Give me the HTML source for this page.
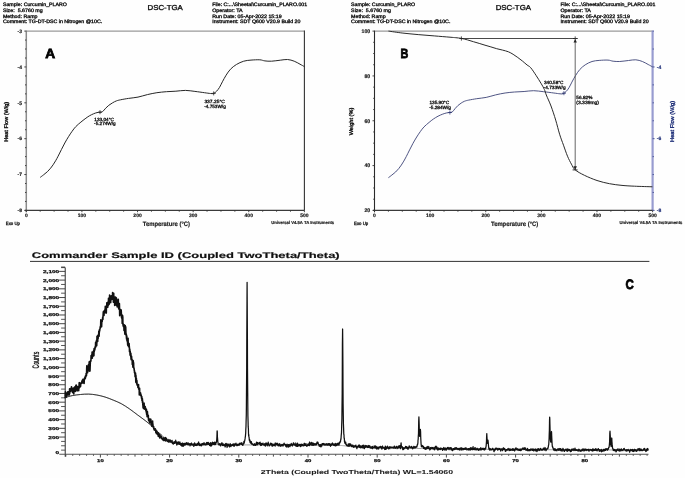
<!DOCTYPE html>
<html><head><meta charset="utf-8"><style>html,body{margin:0;padding:0;background:#fefefe;width:685px;height:478px;overflow:hidden}svg{will-change:transform}</style></head>
<body><svg width="685" height="478" viewBox="0 0 685 478" style="display:block">
<rect width="685" height="478" fill="#fefefe"/>
<g font-family="Liberation Sans, sans-serif" style="white-space:pre" text-rendering="geometricPrecision">
<text x="2.9" y="6.1" font-size="4.9" font-weight="normal" fill="#111" text-anchor="start" textLength="64" lengthAdjust="spacingAndGlyphs" stroke="#111" stroke-width="0.32">Sample: Curcumin_PLARO</text>
<text x="2.9" y="11.8" font-size="4.9" font-weight="normal" fill="#111" text-anchor="start" textLength="39.8" lengthAdjust="spacingAndGlyphs" stroke="#111" stroke-width="0.32">Size:  5.6760 mg</text>
<text x="2.9" y="17.6" font-size="4.9" font-weight="normal" fill="#111" text-anchor="start" textLength="34.6" lengthAdjust="spacingAndGlyphs" stroke="#111" stroke-width="0.32">Method: Ramp</text>
<text x="2.9" y="23.45" font-size="4.9" font-weight="normal" fill="#111" text-anchor="start" textLength="99.3" lengthAdjust="spacingAndGlyphs" stroke="#111" stroke-width="0.32">Comment: TG-DT-DSC in Nitrogen @10C.</text>
<text x="147.5" y="10.3" font-size="7.2" font-weight="normal" fill="#111" text-anchor="start" textLength="35.3" lengthAdjust="spacingAndGlyphs" stroke="#111" stroke-width="0.35">DSC-TGA</text>
<text x="212.2" y="6.1" font-size="4.9" font-weight="normal" fill="#111" text-anchor="start" textLength="95" lengthAdjust="spacingAndGlyphs" stroke="#111" stroke-width="0.32">File: C:...\Sheetal\Curcumin_PLARO.001</text>
<text x="212.2" y="11.8" font-size="4.9" font-weight="normal" fill="#111" text-anchor="start" textLength="30.5" lengthAdjust="spacingAndGlyphs" stroke="#111" stroke-width="0.32">Operator: TA</text>
<text x="212.2" y="17.6" font-size="4.9" font-weight="normal" fill="#111" text-anchor="start" textLength="69.5" lengthAdjust="spacingAndGlyphs" stroke="#111" stroke-width="0.32">Run Date: 05-Apr-2022 15:19</text>
<text x="212.2" y="23.45" font-size="4.9" font-weight="normal" fill="#111" text-anchor="start" textLength="88.3" lengthAdjust="spacingAndGlyphs" stroke="#111" stroke-width="0.32">Instrument: SDT Q600 V20.9 Build 20</text>
<line x1="26.3" y1="31.1" x2="304.4" y2="31.1" stroke="#9a9a9a" stroke-width="1.4"/>
<line x1="304.4" y1="30.6" x2="304.4" y2="210.4" stroke="#333" stroke-width="1.1"/>
<line x1="26.3" y1="30.6" x2="26.3" y2="212.2" stroke="#8a8a8a" stroke-width="1.5"/>
<line x1="24.8" y1="210.4" x2="304.4" y2="210.4" stroke="#3a3a3a" stroke-width="1.1"/>
<line x1="26.3" y1="210.4" x2="26.3" y2="212.2" stroke="#333" stroke-width="0.9"/>
<line x1="40.2" y1="210.4" x2="40.2" y2="211.7" stroke="#333" stroke-width="0.9"/>
<line x1="54.11" y1="210.4" x2="54.11" y2="211.7" stroke="#333" stroke-width="0.9"/>
<line x1="68.01" y1="210.4" x2="68.01" y2="211.7" stroke="#333" stroke-width="0.9"/>
<line x1="81.92" y1="210.4" x2="81.92" y2="212.2" stroke="#333" stroke-width="0.9"/>
<line x1="95.82" y1="210.4" x2="95.82" y2="211.7" stroke="#333" stroke-width="0.9"/>
<line x1="109.73" y1="210.4" x2="109.73" y2="211.7" stroke="#333" stroke-width="0.9"/>
<line x1="123.63" y1="210.4" x2="123.63" y2="211.7" stroke="#333" stroke-width="0.9"/>
<line x1="137.54" y1="210.4" x2="137.54" y2="212.2" stroke="#333" stroke-width="0.9"/>
<line x1="151.44" y1="210.4" x2="151.44" y2="211.7" stroke="#333" stroke-width="0.9"/>
<line x1="165.35" y1="210.4" x2="165.35" y2="211.7" stroke="#333" stroke-width="0.9"/>
<line x1="179.25" y1="210.4" x2="179.25" y2="211.7" stroke="#333" stroke-width="0.9"/>
<line x1="193.16" y1="210.4" x2="193.16" y2="212.2" stroke="#333" stroke-width="0.9"/>
<line x1="207.06" y1="210.4" x2="207.06" y2="211.7" stroke="#333" stroke-width="0.9"/>
<line x1="220.97" y1="210.4" x2="220.97" y2="211.7" stroke="#333" stroke-width="0.9"/>
<line x1="234.87" y1="210.4" x2="234.87" y2="211.7" stroke="#333" stroke-width="0.9"/>
<line x1="248.78" y1="210.4" x2="248.78" y2="212.2" stroke="#333" stroke-width="0.9"/>
<line x1="262.68" y1="210.4" x2="262.68" y2="211.7" stroke="#333" stroke-width="0.9"/>
<line x1="276.59" y1="210.4" x2="276.59" y2="211.7" stroke="#333" stroke-width="0.9"/>
<line x1="290.49" y1="210.4" x2="290.49" y2="211.7" stroke="#333" stroke-width="0.9"/>
<line x1="304.4" y1="210.4" x2="304.4" y2="212.2" stroke="#333" stroke-width="0.9"/>
<text x="26.3" y="216.9" font-size="5" font-weight="bold" fill="#1a1a1a" text-anchor="middle" stroke="#1a1a1a" stroke-width="0.18">0</text>
<text x="81.92" y="216.9" font-size="5" font-weight="bold" fill="#1a1a1a" text-anchor="middle" stroke="#1a1a1a" stroke-width="0.18">100</text>
<text x="137.54" y="216.9" font-size="5" font-weight="bold" fill="#1a1a1a" text-anchor="middle" stroke="#1a1a1a" stroke-width="0.18">200</text>
<text x="193.16" y="216.9" font-size="5" font-weight="bold" fill="#1a1a1a" text-anchor="middle" stroke="#1a1a1a" stroke-width="0.18">300</text>
<text x="248.78" y="216.9" font-size="5" font-weight="bold" fill="#1a1a1a" text-anchor="middle" stroke="#1a1a1a" stroke-width="0.18">400</text>
<text x="304.4" y="216.9" font-size="5" font-weight="bold" fill="#1a1a1a" text-anchor="middle" stroke="#1a1a1a" stroke-width="0.18">500</text>
<text x="142.8" y="226" font-size="6.3" font-weight="bold" fill="#1a1a1a" text-anchor="start" textLength="47.2" lengthAdjust="spacingAndGlyphs" stroke="#1a1a1a" stroke-width="0.18">Temperature (°C)</text>
<text x="271.2" y="224.3" font-size="4.4" font-weight="bold" fill="#1a1a1a" text-anchor="start" textLength="63" lengthAdjust="spacingAndGlyphs" stroke="#1a1a1a" stroke-width="0.18">Universal V4.5A TA Instruments</text>
<text x="5.8" y="224.5" font-size="4.6" font-weight="normal" fill="#111" text-anchor="start" textLength="14.2" lengthAdjust="spacingAndGlyphs" stroke="#111" stroke-width="0.3">Exo Up</text>
<line x1="24.3" y1="31.1" x2="26.3" y2="31.1" stroke="#333" stroke-width="0.9"/>
<line x1="25" y1="40.06" x2="26.3" y2="40.06" stroke="#333" stroke-width="0.9"/>
<line x1="25" y1="49.03" x2="26.3" y2="49.03" stroke="#333" stroke-width="0.9"/>
<line x1="25" y1="58" x2="26.3" y2="58" stroke="#333" stroke-width="0.9"/>
<line x1="24.3" y1="66.96" x2="26.3" y2="66.96" stroke="#333" stroke-width="0.9"/>
<line x1="25" y1="75.93" x2="26.3" y2="75.93" stroke="#333" stroke-width="0.9"/>
<line x1="25" y1="84.89" x2="26.3" y2="84.89" stroke="#333" stroke-width="0.9"/>
<line x1="25" y1="93.86" x2="26.3" y2="93.86" stroke="#333" stroke-width="0.9"/>
<line x1="24.3" y1="102.82" x2="26.3" y2="102.82" stroke="#333" stroke-width="0.9"/>
<line x1="25" y1="111.78" x2="26.3" y2="111.78" stroke="#333" stroke-width="0.9"/>
<line x1="25" y1="120.75" x2="26.3" y2="120.75" stroke="#333" stroke-width="0.9"/>
<line x1="25" y1="129.72" x2="26.3" y2="129.72" stroke="#333" stroke-width="0.9"/>
<line x1="24.3" y1="138.68" x2="26.3" y2="138.68" stroke="#333" stroke-width="0.9"/>
<line x1="25" y1="147.65" x2="26.3" y2="147.65" stroke="#333" stroke-width="0.9"/>
<line x1="25" y1="156.61" x2="26.3" y2="156.61" stroke="#333" stroke-width="0.9"/>
<line x1="25" y1="165.57" x2="26.3" y2="165.57" stroke="#333" stroke-width="0.9"/>
<line x1="24.3" y1="174.54" x2="26.3" y2="174.54" stroke="#333" stroke-width="0.9"/>
<line x1="25" y1="183.51" x2="26.3" y2="183.51" stroke="#333" stroke-width="0.9"/>
<line x1="25" y1="192.47" x2="26.3" y2="192.47" stroke="#333" stroke-width="0.9"/>
<line x1="25" y1="201.44" x2="26.3" y2="201.44" stroke="#333" stroke-width="0.9"/>
<line x1="24.3" y1="210.4" x2="26.3" y2="210.4" stroke="#333" stroke-width="0.9"/>
<text x="22" y="32.9" font-size="5" font-weight="bold" fill="#1a1a1a" text-anchor="end" stroke="#1a1a1a" stroke-width="0.18">-3</text>
<text x="22" y="68.76" font-size="5" font-weight="bold" fill="#1a1a1a" text-anchor="end" stroke="#1a1a1a" stroke-width="0.18">-4</text>
<text x="22" y="104.62" font-size="5" font-weight="bold" fill="#1a1a1a" text-anchor="end" stroke="#1a1a1a" stroke-width="0.18">-5</text>
<text x="22" y="140.48" font-size="5" font-weight="bold" fill="#1a1a1a" text-anchor="end" stroke="#1a1a1a" stroke-width="0.18">-6</text>
<text x="22" y="176.34" font-size="5" font-weight="bold" fill="#1a1a1a" text-anchor="end" stroke="#1a1a1a" stroke-width="0.18">-7</text>
<text x="22" y="212.2" font-size="5" font-weight="bold" fill="#1a1a1a" text-anchor="end" stroke="#1a1a1a" stroke-width="0.18">-8</text>
<text x="0" y="0" font-size="5.5" font-weight="normal" fill="#111" text-anchor="middle" textLength="40" lengthAdjust="spacingAndGlyphs" stroke="#111" stroke-width="0.35" transform="translate(8.4,121.8) rotate(-90)">Heat Flow (W/g)</text>
<text x="45.3" y="57.9" font-size="13.4" font-weight="bold" fill="#000" text-anchor="start" textLength="9.9" lengthAdjust="spacingAndGlyphs" stroke="#000" stroke-width="0.8">A</text>
<path d="M40.2,177.4 C40.77,176.97 42.4,175.75 43.6,174.8 C44.8,173.85 46.23,172.8 47.4,171.7 C48.57,170.6 49.65,169.35 50.6,168.2 C51.55,167.05 52.27,166.03 53.1,164.8 C53.93,163.57 54.77,162.23 55.6,160.8 C56.43,159.37 57.13,158.07 58.1,156.2 C59.07,154.33 60.28,151.8 61.4,149.6 C62.52,147.4 63.62,145.15 64.8,143 C65.98,140.85 67.28,138.65 68.5,136.7 C69.72,134.75 70.88,132.98 72.1,131.3 C73.32,129.62 74.33,128.13 75.8,126.6 C77.27,125.07 79.35,123.4 80.9,122.1 C82.45,120.8 83.7,119.83 85.1,118.8 C86.5,117.77 87.9,116.73 89.3,115.9 C90.7,115.07 92.22,114.35 93.5,113.8 C94.78,113.25 95.92,112.87 97,112.6 C98.08,112.33 99.07,112.37 100,112.2 C100.93,112.03 101.65,112.27 102.6,111.6 C103.55,110.93 104.67,109.25 105.7,108.2 C106.73,107.15 107.65,106.2 108.8,105.3 C109.95,104.4 111.33,103.53 112.6,102.8 C113.87,102.07 115.08,101.4 116.4,100.9 C117.72,100.4 118.48,100.22 120.5,99.8 C122.52,99.38 125.58,98.85 128.5,98.4 C131.42,97.95 134.85,97.73 138,97.1 C141.15,96.47 144.25,95.33 147.4,94.6 C150.55,93.87 153.73,93.18 156.9,92.7 C160.07,92.22 163.23,91.95 166.4,91.7 C169.57,91.45 172.73,91.42 175.9,91.2 C179.07,90.98 182.23,90.37 185.4,90.4 C188.57,90.43 191.73,91.02 194.9,91.4 C198.07,91.78 201.8,92.35 204.4,92.7 C207,93.05 208.95,93.38 210.5,93.5 C212.05,93.62 212.68,93.78 213.7,93.4 C214.72,93.02 215.63,92.2 216.6,91.2 C217.57,90.2 218.53,88.97 219.5,87.4 C220.47,85.83 221.3,83.83 222.4,81.8 C223.5,79.77 224.75,77.3 226.1,75.2 C227.45,73.1 228.78,70.98 230.5,69.2 C232.22,67.42 234.2,65.83 236.4,64.5 C238.6,63.17 241.27,61.93 243.7,61.2 C246.13,60.47 248.32,60.33 251,60.1 C253.68,59.87 257.48,59.67 259.8,59.8 C262.12,59.93 262.95,60.67 264.9,60.9 C266.85,61.13 268.93,61.32 271.5,61.2 C274.07,61.08 277.62,60.48 280.3,60.2 C282.98,59.92 285.28,59.33 287.6,59.5 C289.92,59.67 292.13,60.42 294.2,61.2 C296.27,61.98 298.3,63.3 300,64.2 C301.7,65.1 303.67,66.2 304.4,66.6" fill="none" stroke="#262626" stroke-width="1.0"/>
<line x1="98" y1="112.2" x2="102" y2="112.2" stroke="#222" stroke-width="0.8"/>
<line x1="100" y1="110.2" x2="100" y2="114.2" stroke="#222" stroke-width="0.8"/>
<line x1="211.7" y1="93.4" x2="215.7" y2="93.4" stroke="#222" stroke-width="0.8"/>
<line x1="213.7" y1="91.4" x2="213.7" y2="95.4" stroke="#222" stroke-width="0.8"/>
<text x="94.3" y="120.6" font-size="4.6" font-weight="normal" fill="#111" text-anchor="start" textLength="19.6" lengthAdjust="spacingAndGlyphs" stroke="#111" stroke-width="0.3">133.04°C</text>
<text x="94.1" y="125.3" font-size="4.6" font-weight="normal" fill="#111" text-anchor="start" textLength="21.6" lengthAdjust="spacingAndGlyphs" stroke="#111" stroke-width="0.3">-5.274W/g</text>
<text x="204.4" y="103.2" font-size="4.6" font-weight="normal" fill="#111" text-anchor="start" textLength="20.5" lengthAdjust="spacingAndGlyphs" stroke="#111" stroke-width="0.3">337.25°C</text>
<text x="204.2" y="107.9" font-size="4.6" font-weight="normal" fill="#111" text-anchor="start" textLength="21.6" lengthAdjust="spacingAndGlyphs" stroke="#111" stroke-width="0.3">-4.753W/g</text>
<text x="351.1" y="6.1" font-size="4.9" font-weight="normal" fill="#111" text-anchor="start" textLength="64" lengthAdjust="spacingAndGlyphs" stroke="#111" stroke-width="0.32">Sample: Curcumin_PLARO</text>
<text x="351.1" y="11.8" font-size="4.9" font-weight="normal" fill="#111" text-anchor="start" textLength="39.8" lengthAdjust="spacingAndGlyphs" stroke="#111" stroke-width="0.32">Size:  5.6760 mg</text>
<text x="351.1" y="17.6" font-size="4.9" font-weight="normal" fill="#111" text-anchor="start" textLength="34.6" lengthAdjust="spacingAndGlyphs" stroke="#111" stroke-width="0.32">Method: Ramp</text>
<text x="351.1" y="23.45" font-size="4.9" font-weight="normal" fill="#111" text-anchor="start" textLength="99.3" lengthAdjust="spacingAndGlyphs" stroke="#111" stroke-width="0.32">Comment: TG-DT-DSC in Nitrogen @10C.</text>
<text x="495.7" y="10.3" font-size="7.2" font-weight="normal" fill="#111" text-anchor="start" textLength="35.3" lengthAdjust="spacingAndGlyphs" stroke="#111" stroke-width="0.35">DSC-TGA</text>
<text x="560.4" y="6.1" font-size="4.9" font-weight="normal" fill="#111" text-anchor="start" textLength="95" lengthAdjust="spacingAndGlyphs" stroke="#111" stroke-width="0.32">File: C:...\Sheetal\Curcumin_PLARO.001</text>
<text x="560.4" y="11.8" font-size="4.9" font-weight="normal" fill="#111" text-anchor="start" textLength="30.5" lengthAdjust="spacingAndGlyphs" stroke="#111" stroke-width="0.32">Operator: TA</text>
<text x="560.4" y="17.6" font-size="4.9" font-weight="normal" fill="#111" text-anchor="start" textLength="69.5" lengthAdjust="spacingAndGlyphs" stroke="#111" stroke-width="0.32">Run Date: 05-Apr-2022 15:19</text>
<text x="560.4" y="23.45" font-size="4.9" font-weight="normal" fill="#111" text-anchor="start" textLength="88.3" lengthAdjust="spacingAndGlyphs" stroke="#111" stroke-width="0.32">Instrument: SDT Q600 V20.9 Build 20</text>
<line x1="374.5" y1="31.1" x2="652.6" y2="31.1" stroke="#9a9a9a" stroke-width="1.4"/>
<line x1="652.6" y1="30.6" x2="652.6" y2="210.4" stroke="#989cd0" stroke-width="2.2"/>
<line x1="374.5" y1="30.6" x2="374.5" y2="212.2" stroke="#2a2a2a" stroke-width="1.1"/>
<line x1="373" y1="210.4" x2="652.6" y2="210.4" stroke="#3a3a3a" stroke-width="1.1"/>
<line x1="374.5" y1="210.4" x2="374.5" y2="212.2" stroke="#333" stroke-width="0.9"/>
<line x1="388.4" y1="210.4" x2="388.4" y2="211.7" stroke="#333" stroke-width="0.9"/>
<line x1="402.31" y1="210.4" x2="402.31" y2="211.7" stroke="#333" stroke-width="0.9"/>
<line x1="416.21" y1="210.4" x2="416.21" y2="211.7" stroke="#333" stroke-width="0.9"/>
<line x1="430.12" y1="210.4" x2="430.12" y2="212.2" stroke="#333" stroke-width="0.9"/>
<line x1="444.02" y1="210.4" x2="444.02" y2="211.7" stroke="#333" stroke-width="0.9"/>
<line x1="457.93" y1="210.4" x2="457.93" y2="211.7" stroke="#333" stroke-width="0.9"/>
<line x1="471.83" y1="210.4" x2="471.83" y2="211.7" stroke="#333" stroke-width="0.9"/>
<line x1="485.74" y1="210.4" x2="485.74" y2="212.2" stroke="#333" stroke-width="0.9"/>
<line x1="499.64" y1="210.4" x2="499.64" y2="211.7" stroke="#333" stroke-width="0.9"/>
<line x1="513.55" y1="210.4" x2="513.55" y2="211.7" stroke="#333" stroke-width="0.9"/>
<line x1="527.45" y1="210.4" x2="527.45" y2="211.7" stroke="#333" stroke-width="0.9"/>
<line x1="541.36" y1="210.4" x2="541.36" y2="212.2" stroke="#333" stroke-width="0.9"/>
<line x1="555.26" y1="210.4" x2="555.26" y2="211.7" stroke="#333" stroke-width="0.9"/>
<line x1="569.17" y1="210.4" x2="569.17" y2="211.7" stroke="#333" stroke-width="0.9"/>
<line x1="583.07" y1="210.4" x2="583.07" y2="211.7" stroke="#333" stroke-width="0.9"/>
<line x1="596.98" y1="210.4" x2="596.98" y2="212.2" stroke="#333" stroke-width="0.9"/>
<line x1="610.88" y1="210.4" x2="610.88" y2="211.7" stroke="#333" stroke-width="0.9"/>
<line x1="624.79" y1="210.4" x2="624.79" y2="211.7" stroke="#333" stroke-width="0.9"/>
<line x1="638.69" y1="210.4" x2="638.69" y2="211.7" stroke="#333" stroke-width="0.9"/>
<line x1="652.6" y1="210.4" x2="652.6" y2="212.2" stroke="#333" stroke-width="0.9"/>
<text x="374.5" y="216.9" font-size="5" font-weight="bold" fill="#1a1a1a" text-anchor="middle" stroke="#1a1a1a" stroke-width="0.18">0</text>
<text x="430.12" y="216.9" font-size="5" font-weight="bold" fill="#1a1a1a" text-anchor="middle" stroke="#1a1a1a" stroke-width="0.18">100</text>
<text x="485.74" y="216.9" font-size="5" font-weight="bold" fill="#1a1a1a" text-anchor="middle" stroke="#1a1a1a" stroke-width="0.18">200</text>
<text x="541.36" y="216.9" font-size="5" font-weight="bold" fill="#1a1a1a" text-anchor="middle" stroke="#1a1a1a" stroke-width="0.18">300</text>
<text x="596.98" y="216.9" font-size="5" font-weight="bold" fill="#1a1a1a" text-anchor="middle" stroke="#1a1a1a" stroke-width="0.18">400</text>
<text x="652.6" y="216.9" font-size="5" font-weight="bold" fill="#1a1a1a" text-anchor="middle" stroke="#1a1a1a" stroke-width="0.18">500</text>
<text x="491" y="226" font-size="6.3" font-weight="bold" fill="#1a1a1a" text-anchor="start" textLength="47.2" lengthAdjust="spacingAndGlyphs" stroke="#1a1a1a" stroke-width="0.18">Temperature (°C)</text>
<text x="619.4" y="224.3" font-size="4.4" font-weight="bold" fill="#1a1a1a" text-anchor="start" textLength="63" lengthAdjust="spacingAndGlyphs" stroke="#1a1a1a" stroke-width="0.18">Universal V4.5A TA Instruments</text>
<text x="354" y="224.5" font-size="4.6" font-weight="normal" fill="#111" text-anchor="start" textLength="14.2" lengthAdjust="spacingAndGlyphs" stroke="#111" stroke-width="0.3">Exo Up</text>
<line x1="372.5" y1="31.1" x2="374.5" y2="31.1" stroke="#333" stroke-width="0.9"/>
<line x1="373.2" y1="42.31" x2="374.5" y2="42.31" stroke="#333" stroke-width="0.9"/>
<line x1="373.2" y1="53.51" x2="374.5" y2="53.51" stroke="#333" stroke-width="0.9"/>
<line x1="373.2" y1="64.72" x2="374.5" y2="64.72" stroke="#333" stroke-width="0.9"/>
<line x1="372.5" y1="75.93" x2="374.5" y2="75.93" stroke="#333" stroke-width="0.9"/>
<line x1="373.2" y1="87.13" x2="374.5" y2="87.13" stroke="#333" stroke-width="0.9"/>
<line x1="373.2" y1="98.34" x2="374.5" y2="98.34" stroke="#333" stroke-width="0.9"/>
<line x1="373.2" y1="109.54" x2="374.5" y2="109.54" stroke="#333" stroke-width="0.9"/>
<line x1="372.5" y1="120.75" x2="374.5" y2="120.75" stroke="#333" stroke-width="0.9"/>
<line x1="373.2" y1="131.96" x2="374.5" y2="131.96" stroke="#333" stroke-width="0.9"/>
<line x1="373.2" y1="143.16" x2="374.5" y2="143.16" stroke="#333" stroke-width="0.9"/>
<line x1="373.2" y1="154.37" x2="374.5" y2="154.37" stroke="#333" stroke-width="0.9"/>
<line x1="372.5" y1="165.58" x2="374.5" y2="165.58" stroke="#333" stroke-width="0.9"/>
<line x1="373.2" y1="176.78" x2="374.5" y2="176.78" stroke="#333" stroke-width="0.9"/>
<line x1="373.2" y1="187.99" x2="374.5" y2="187.99" stroke="#333" stroke-width="0.9"/>
<line x1="373.2" y1="199.19" x2="374.5" y2="199.19" stroke="#333" stroke-width="0.9"/>
<line x1="372.5" y1="210.4" x2="374.5" y2="210.4" stroke="#333" stroke-width="0.9"/>
<text x="370.2" y="32.9" font-size="5.2" font-weight="bold" fill="#1a1a1a" text-anchor="end" stroke="#1a1a1a" stroke-width="0.18">100</text>
<text x="370.2" y="77.73" font-size="5.2" font-weight="bold" fill="#1a1a1a" text-anchor="end" stroke="#1a1a1a" stroke-width="0.18">80</text>
<text x="370.2" y="122.55" font-size="5.2" font-weight="bold" fill="#1a1a1a" text-anchor="end" stroke="#1a1a1a" stroke-width="0.18">60</text>
<text x="370.2" y="167.38" font-size="5.2" font-weight="bold" fill="#1a1a1a" text-anchor="end" stroke="#1a1a1a" stroke-width="0.18">40</text>
<text x="370.2" y="212.2" font-size="5.2" font-weight="bold" fill="#1a1a1a" text-anchor="end" stroke="#1a1a1a" stroke-width="0.18">20</text>
<text x="0" y="0" font-size="5.5" font-weight="normal" fill="#111" text-anchor="middle" textLength="27.7" lengthAdjust="spacingAndGlyphs" stroke="#111" stroke-width="0.35" transform="translate(353.3,121.5) rotate(-90)">Weight (%)</text>
<line x1="652.6" y1="31.1" x2="653.9" y2="31.1" stroke="#3c4a90" stroke-width="0.9"/>
<line x1="652.6" y1="49.03" x2="653.9" y2="49.03" stroke="#3c4a90" stroke-width="0.9"/>
<line x1="652.6" y1="66.96" x2="654.6" y2="66.96" stroke="#3c4a90" stroke-width="0.9"/>
<line x1="652.6" y1="84.89" x2="653.9" y2="84.89" stroke="#3c4a90" stroke-width="0.9"/>
<line x1="652.6" y1="102.82" x2="653.9" y2="102.82" stroke="#3c4a90" stroke-width="0.9"/>
<line x1="652.6" y1="120.75" x2="653.9" y2="120.75" stroke="#3c4a90" stroke-width="0.9"/>
<line x1="652.6" y1="138.68" x2="654.6" y2="138.68" stroke="#3c4a90" stroke-width="0.9"/>
<line x1="652.6" y1="156.61" x2="653.9" y2="156.61" stroke="#3c4a90" stroke-width="0.9"/>
<line x1="652.6" y1="174.54" x2="653.9" y2="174.54" stroke="#3c4a90" stroke-width="0.9"/>
<line x1="652.6" y1="192.47" x2="653.9" y2="192.47" stroke="#3c4a90" stroke-width="0.9"/>
<line x1="652.6" y1="210.4" x2="654.6" y2="210.4" stroke="#3c4a90" stroke-width="0.9"/>
<text x="656.8" y="68.76" font-size="5" font-weight="bold" fill="#1f2f78" text-anchor="start" stroke="#1f2f78" stroke-width="0.18">-4</text>
<text x="656.8" y="140.48" font-size="5" font-weight="bold" fill="#1f2f78" text-anchor="start" stroke="#1f2f78" stroke-width="0.18">-6</text>
<text x="656.8" y="212.2" font-size="5" font-weight="bold" fill="#1f2f78" text-anchor="start" stroke="#1f2f78" stroke-width="0.18">-8</text>
<text x="0" y="0" font-size="5.5" font-weight="normal" fill="#1f2f78" text-anchor="middle" textLength="41" lengthAdjust="spacingAndGlyphs" stroke="#1f2f78" stroke-width="0.35" transform="translate(674.4,121.4) rotate(-90)">Heat Flow (W/g)</text>
<text x="400.5" y="57.9" font-size="13.4" font-weight="bold" fill="#000" text-anchor="start" textLength="7.8" lengthAdjust="spacingAndGlyphs" stroke="#000" stroke-width="0.8">B</text>
<path d="M388.4,177.7 C388.97,177.27 390.6,176.05 391.8,175.1 C393,174.15 394.43,173.1 395.6,172 C396.77,170.9 397.85,169.65 398.8,168.5 C399.75,167.35 400.47,166.33 401.3,165.1 C402.13,163.87 402.97,162.53 403.8,161.1 C404.63,159.67 405.33,158.37 406.3,156.5 C407.27,154.63 408.48,152.1 409.6,149.9 C410.72,147.7 411.82,145.45 413,143.3 C414.18,141.15 415.48,138.95 416.7,137 C417.92,135.05 419.08,133.28 420.3,131.6 C421.52,129.92 422.53,128.43 424,126.9 C425.47,125.37 427.55,123.7 429.1,122.4 C430.65,121.1 431.82,120.13 433.31,119.1 C434.8,118.07 436.46,117.03 438.04,116.2 C439.61,115.37 441.32,114.65 442.76,114.1 C444.21,113.55 445.54,113.17 446.7,112.9 C447.86,112.63 448.77,112.67 449.7,112.5 C450.63,112.33 451.39,112.57 452.3,111.9 C453.21,111.23 454.24,109.55 455.17,108.5 C456.09,107.45 456.85,106.5 457.85,105.6 C458.84,104.7 460,103.83 461.13,103.1 C462.25,102.37 463.34,101.7 464.6,101.2 C465.86,100.7 466.68,100.52 468.7,100.1 C470.72,99.68 473.78,99.15 476.7,98.7 C479.62,98.25 483.05,98.03 486.2,97.4 C489.35,96.77 492.45,95.63 495.6,94.9 C498.75,94.17 501.93,93.48 505.1,93 C508.27,92.52 511.43,92.25 514.6,92 C517.77,91.75 520.93,91.72 524.1,91.5 C527.27,91.28 530.36,90.67 533.6,90.7 C536.84,90.73 540.15,91.32 543.52,91.7 C546.9,92.08 551.1,92.65 553.85,93 C556.59,93.35 558.44,93.68 560,93.8 C561.56,93.92 562.18,94.08 563.2,93.7 C564.22,93.32 565.13,92.5 566.1,91.5 C567.07,90.5 568.03,89.27 569,87.7 C569.97,86.13 570.8,84.13 571.9,82.1 C573,80.07 574.28,77.6 575.6,75.5 C576.92,73.4 578.2,71.28 579.81,69.5 C581.42,67.72 583.23,66.13 585.26,64.8 C587.29,63.47 589.68,62.23 592,61.5 C594.32,60.77 596.53,60.63 599.2,60.4 C601.87,60.17 605.68,59.97 608,60.1 C610.32,60.23 611.15,60.97 613.1,61.2 C615.05,61.43 617.13,61.62 619.7,61.5 C622.27,61.38 625.82,60.78 628.5,60.5 C631.18,60.22 633.48,59.63 635.8,59.8 C638.12,59.97 640.33,60.72 642.4,61.5 C644.47,62.28 646.5,63.6 648.2,64.5 C649.9,65.4 651.87,66.5 652.6,66.9" fill="none" stroke="#3b4275" stroke-width="0.9"/>
<line x1="447.9" y1="112.5" x2="451.9" y2="112.5" stroke="#2a3470" stroke-width="0.8"/>
<line x1="449.9" y1="110.5" x2="449.9" y2="114.5" stroke="#2a3470" stroke-width="0.8"/>
<line x1="561.9" y1="93.2" x2="565.9" y2="93.2" stroke="#2a3470" stroke-width="0.8"/>
<line x1="563.9" y1="91.2" x2="563.9" y2="95.2" stroke="#2a3470" stroke-width="0.8"/>
<text x="429.4" y="103.6" font-size="4.6" font-weight="normal" fill="#111" text-anchor="start" textLength="19.8" lengthAdjust="spacingAndGlyphs" stroke="#111" stroke-width="0.3">135.90°C</text>
<text x="429.2" y="108.6" font-size="4.6" font-weight="normal" fill="#111" text-anchor="start" textLength="21.8" lengthAdjust="spacingAndGlyphs" stroke="#111" stroke-width="0.3">-5.284W/g</text>
<text x="544" y="84.3" font-size="4.6" font-weight="normal" fill="#111" text-anchor="start" textLength="19.5" lengthAdjust="spacingAndGlyphs" stroke="#111" stroke-width="0.3">340.58°C</text>
<text x="543.6" y="89.1" font-size="4.6" font-weight="normal" fill="#111" text-anchor="start" textLength="22" lengthAdjust="spacingAndGlyphs" stroke="#111" stroke-width="0.3">-4.733W/g</text>
<path d="M388.5,31.1 C390.77,31.42 397.15,32.42 402.1,33 C407.05,33.58 412.85,34.12 418.2,34.6 C423.55,35.08 428.9,35.47 434.2,35.9 C439.5,36.33 446.4,36.9 450,37.2 C453.6,37.5 453.9,37.5 455.8,37.7 C457.7,37.9 459.45,38.03 461.4,38.4 C463.35,38.77 465.5,39.35 467.5,39.9 C469.5,40.45 471.45,41.12 473.4,41.7 C475.35,42.28 477.27,42.82 479.2,43.4 C481.13,43.98 483.05,44.62 485,45.2 C486.95,45.78 488.95,46.32 490.9,46.9 C492.85,47.48 494.75,48.17 496.7,48.7 C498.65,49.23 500.65,49.58 502.6,50.1 C504.55,50.62 506.65,51.1 508.4,51.8 C510.15,52.5 511.53,53.35 513.1,54.3 C514.67,55.25 516.25,56.38 517.8,57.5 C519.35,58.62 520.85,59.75 522.4,61 C523.95,62.25 525.72,63.88 527.1,65 C528.48,66.12 529.22,65.98 530.7,67.7 C532.18,69.42 534.23,72.62 536,75.3 C537.77,77.98 539.9,81.43 541.3,83.8 C542.7,86.17 543.57,87.63 544.4,89.5 C545.23,91.37 545.2,92.25 546.3,95 C547.4,97.75 549.43,101.82 551,106 C552.57,110.18 554.27,115.4 555.7,120.1 C557.13,124.8 558.3,130.02 559.6,134.2 C560.9,138.38 562.18,141.53 563.5,145.2 C564.82,148.87 566.18,153.05 567.5,156.2 C568.82,159.35 570.13,161.83 571.4,164.1 C572.67,166.37 572.93,167.93 575.1,169.8 C577.27,171.67 580.75,173.52 584.4,175.3 C588.05,177.08 592.82,179.1 597,180.5 C601.18,181.9 605.33,182.88 609.5,183.7 C613.67,184.52 617.82,184.98 622,185.4 C626.18,185.82 629.53,185.97 634.6,186.2 C639.67,186.43 649.43,186.7 652.4,186.8" fill="none" stroke="#2a2a2a" stroke-width="1.0"/>
<line x1="461.4" y1="38.5" x2="576.5" y2="38.5" stroke="#333" stroke-width="0.9"/>
<line x1="575.2" y1="38.5" x2="575.2" y2="170" stroke="#555" stroke-width="0.9"/>
<line x1="459.3" y1="38.5" x2="463.5" y2="38.5" stroke="#222" stroke-width="0.8"/>
<line x1="461.4" y1="36.4" x2="461.4" y2="40.6" stroke="#222" stroke-width="0.8"/>
<path d="M573.5,42.6 L575.2,38.9 L576.9,42.6 Z" fill="#222"/>
<path d="M573.5,166.2 L575.2,169.9 L576.9,166.2 Z" fill="#222"/>
<line x1="573" y1="38.5" x2="577.8" y2="38.5" stroke="#222" stroke-width="0.9"/>
<line x1="575.2" y1="36.4" x2="575.2" y2="38.5" stroke="#444" stroke-width="0.9"/>
<line x1="572.6" y1="169.9" x2="577.6" y2="169.9" stroke="#222" stroke-width="0.9"/>
<text x="576.3" y="99.1" font-size="4.6" font-weight="normal" fill="#111" text-anchor="start" textLength="16.1" lengthAdjust="spacingAndGlyphs" stroke="#111" stroke-width="0.3">56.82%</text>
<text x="576.3" y="103.9" font-size="4.6" font-weight="normal" fill="#111" text-anchor="start" textLength="22.7" lengthAdjust="spacingAndGlyphs" stroke="#111" stroke-width="0.3">(3.339mg)</text>
<text x="31.8" y="257.7" font-size="8.1" font-weight="bold" fill="#111" text-anchor="start" textLength="307.9" lengthAdjust="spacingAndGlyphs" stroke="#111" stroke-width="0.18">Commander Sample ID (Coupled TwoTheta/Theta)</text>
<line x1="30" y1="261.4" x2="649.4" y2="261.4" stroke="#333" stroke-width="1"/>
<text x="625.4" y="288.7" font-size="13.6" font-weight="bold" fill="#000" text-anchor="start" textLength="8.3" lengthAdjust="spacingAndGlyphs" stroke="#000" stroke-width="0.8">C</text>
<line x1="65.3" y1="267.5" x2="65.3" y2="456.7" stroke="#666" stroke-width="1.4"/>
<line x1="59.3" y1="454.2" x2="648.5" y2="454.2" stroke="#555" stroke-width="1.1"/>
<line x1="61.1" y1="450.14" x2="65.1" y2="450.14" stroke="#444" stroke-width="0.9"/>
<line x1="61.1" y1="445.78" x2="65.1" y2="445.78" stroke="#444" stroke-width="0.9"/>
<line x1="61.1" y1="441.42" x2="65.1" y2="441.42" stroke="#444" stroke-width="0.9"/>
<line x1="59.1" y1="437.06" x2="65.1" y2="437.06" stroke="#333" stroke-width="0.9"/>
<line x1="61.1" y1="432.7" x2="65.1" y2="432.7" stroke="#444" stroke-width="0.9"/>
<line x1="59.1" y1="428.34" x2="65.1" y2="428.34" stroke="#333" stroke-width="0.9"/>
<line x1="61.1" y1="423.98" x2="65.1" y2="423.98" stroke="#444" stroke-width="0.9"/>
<line x1="59.1" y1="419.62" x2="65.1" y2="419.62" stroke="#333" stroke-width="0.9"/>
<line x1="61.1" y1="415.26" x2="65.1" y2="415.26" stroke="#444" stroke-width="0.9"/>
<line x1="59.1" y1="410.9" x2="65.1" y2="410.9" stroke="#333" stroke-width="0.9"/>
<line x1="61.1" y1="406.54" x2="65.1" y2="406.54" stroke="#444" stroke-width="0.9"/>
<line x1="59.1" y1="402.18" x2="65.1" y2="402.18" stroke="#333" stroke-width="0.9"/>
<line x1="61.1" y1="397.82" x2="65.1" y2="397.82" stroke="#444" stroke-width="0.9"/>
<line x1="59.1" y1="393.46" x2="65.1" y2="393.46" stroke="#333" stroke-width="0.9"/>
<line x1="61.1" y1="389.1" x2="65.1" y2="389.1" stroke="#444" stroke-width="0.9"/>
<line x1="59.1" y1="384.74" x2="65.1" y2="384.74" stroke="#333" stroke-width="0.9"/>
<line x1="61.1" y1="380.38" x2="65.1" y2="380.38" stroke="#444" stroke-width="0.9"/>
<line x1="59.1" y1="376.02" x2="65.1" y2="376.02" stroke="#333" stroke-width="0.9"/>
<line x1="61.1" y1="371.66" x2="65.1" y2="371.66" stroke="#444" stroke-width="0.9"/>
<line x1="59.1" y1="367.3" x2="65.1" y2="367.3" stroke="#333" stroke-width="0.9"/>
<line x1="61.1" y1="362.94" x2="65.1" y2="362.94" stroke="#444" stroke-width="0.9"/>
<line x1="59.1" y1="358.58" x2="65.1" y2="358.58" stroke="#333" stroke-width="0.9"/>
<line x1="61.1" y1="354.22" x2="65.1" y2="354.22" stroke="#444" stroke-width="0.9"/>
<line x1="59.1" y1="349.86" x2="65.1" y2="349.86" stroke="#333" stroke-width="0.9"/>
<line x1="61.1" y1="345.5" x2="65.1" y2="345.5" stroke="#444" stroke-width="0.9"/>
<line x1="59.1" y1="341.14" x2="65.1" y2="341.14" stroke="#333" stroke-width="0.9"/>
<line x1="61.1" y1="336.78" x2="65.1" y2="336.78" stroke="#444" stroke-width="0.9"/>
<line x1="59.1" y1="332.42" x2="65.1" y2="332.42" stroke="#333" stroke-width="0.9"/>
<line x1="61.1" y1="328.06" x2="65.1" y2="328.06" stroke="#444" stroke-width="0.9"/>
<line x1="59.1" y1="323.7" x2="65.1" y2="323.7" stroke="#333" stroke-width="0.9"/>
<line x1="61.1" y1="319.34" x2="65.1" y2="319.34" stroke="#444" stroke-width="0.9"/>
<line x1="59.1" y1="314.98" x2="65.1" y2="314.98" stroke="#333" stroke-width="0.9"/>
<line x1="61.1" y1="310.62" x2="65.1" y2="310.62" stroke="#444" stroke-width="0.9"/>
<line x1="59.1" y1="306.26" x2="65.1" y2="306.26" stroke="#333" stroke-width="0.9"/>
<line x1="61.1" y1="301.9" x2="65.1" y2="301.9" stroke="#444" stroke-width="0.9"/>
<line x1="59.1" y1="297.54" x2="65.1" y2="297.54" stroke="#333" stroke-width="0.9"/>
<line x1="61.1" y1="293.18" x2="65.1" y2="293.18" stroke="#444" stroke-width="0.9"/>
<line x1="59.1" y1="288.82" x2="65.1" y2="288.82" stroke="#333" stroke-width="0.9"/>
<line x1="61.1" y1="284.46" x2="65.1" y2="284.46" stroke="#444" stroke-width="0.9"/>
<line x1="59.1" y1="280.1" x2="65.1" y2="280.1" stroke="#333" stroke-width="0.9"/>
<line x1="61.1" y1="275.74" x2="65.1" y2="275.74" stroke="#444" stroke-width="0.9"/>
<line x1="59.1" y1="271.38" x2="65.1" y2="271.38" stroke="#333" stroke-width="0.9"/>
<line x1="61.1" y1="267.02" x2="65.1" y2="267.02" stroke="#444" stroke-width="0.9"/>
<line x1="61.1" y1="267.6" x2="65.1" y2="267.6" stroke="#333" stroke-width="0.9"/>
<text x="59.2" y="453.8" font-size="4.1" font-weight="bold" fill="#111" text-anchor="end" textLength="3.6" lengthAdjust="spacingAndGlyphs" stroke="#111" stroke-width="0.25">0</text>
<text x="59.2" y="438.56" font-size="4.1" font-weight="bold" fill="#111" text-anchor="end" textLength="10.81" lengthAdjust="spacingAndGlyphs" stroke="#111" stroke-width="0.25">200</text>
<text x="59.2" y="429.84" font-size="4.1" font-weight="bold" fill="#111" text-anchor="end" textLength="10.81" lengthAdjust="spacingAndGlyphs" stroke="#111" stroke-width="0.25">300</text>
<text x="59.2" y="421.12" font-size="4.1" font-weight="bold" fill="#111" text-anchor="end" textLength="10.81" lengthAdjust="spacingAndGlyphs" stroke="#111" stroke-width="0.25">400</text>
<text x="59.2" y="412.4" font-size="4.1" font-weight="bold" fill="#111" text-anchor="end" textLength="10.81" lengthAdjust="spacingAndGlyphs" stroke="#111" stroke-width="0.25">500</text>
<text x="59.2" y="403.68" font-size="4.1" font-weight="bold" fill="#111" text-anchor="end" textLength="10.81" lengthAdjust="spacingAndGlyphs" stroke="#111" stroke-width="0.25">600</text>
<text x="59.2" y="394.96" font-size="4.1" font-weight="bold" fill="#111" text-anchor="end" textLength="10.81" lengthAdjust="spacingAndGlyphs" stroke="#111" stroke-width="0.25">700</text>
<text x="59.2" y="386.24" font-size="4.1" font-weight="bold" fill="#111" text-anchor="end" textLength="10.81" lengthAdjust="spacingAndGlyphs" stroke="#111" stroke-width="0.25">800</text>
<text x="59.2" y="377.52" font-size="4.1" font-weight="bold" fill="#111" text-anchor="end" textLength="10.81" lengthAdjust="spacingAndGlyphs" stroke="#111" stroke-width="0.25">900</text>
<text x="59.2" y="368.8" font-size="4.1" font-weight="bold" fill="#111" text-anchor="end" textLength="16.21" lengthAdjust="spacingAndGlyphs" stroke="#111" stroke-width="0.25">1,000</text>
<text x="59.2" y="360.08" font-size="4.1" font-weight="bold" fill="#111" text-anchor="end" textLength="16.21" lengthAdjust="spacingAndGlyphs" stroke="#111" stroke-width="0.25">1,100</text>
<text x="59.2" y="351.36" font-size="4.1" font-weight="bold" fill="#111" text-anchor="end" textLength="16.21" lengthAdjust="spacingAndGlyphs" stroke="#111" stroke-width="0.25">1,200</text>
<text x="59.2" y="342.64" font-size="4.1" font-weight="bold" fill="#111" text-anchor="end" textLength="16.21" lengthAdjust="spacingAndGlyphs" stroke="#111" stroke-width="0.25">1,300</text>
<text x="59.2" y="333.92" font-size="4.1" font-weight="bold" fill="#111" text-anchor="end" textLength="16.21" lengthAdjust="spacingAndGlyphs" stroke="#111" stroke-width="0.25">1,400</text>
<text x="59.2" y="325.2" font-size="4.1" font-weight="bold" fill="#111" text-anchor="end" textLength="16.21" lengthAdjust="spacingAndGlyphs" stroke="#111" stroke-width="0.25">1,500</text>
<text x="59.2" y="316.48" font-size="4.1" font-weight="bold" fill="#111" text-anchor="end" textLength="16.21" lengthAdjust="spacingAndGlyphs" stroke="#111" stroke-width="0.25">1,600</text>
<text x="59.2" y="307.76" font-size="4.1" font-weight="bold" fill="#111" text-anchor="end" textLength="16.21" lengthAdjust="spacingAndGlyphs" stroke="#111" stroke-width="0.25">1,700</text>
<text x="59.2" y="299.04" font-size="4.1" font-weight="bold" fill="#111" text-anchor="end" textLength="16.21" lengthAdjust="spacingAndGlyphs" stroke="#111" stroke-width="0.25">1,800</text>
<text x="59.2" y="290.32" font-size="4.1" font-weight="bold" fill="#111" text-anchor="end" textLength="16.21" lengthAdjust="spacingAndGlyphs" stroke="#111" stroke-width="0.25">1,900</text>
<text x="59.2" y="281.6" font-size="4.1" font-weight="bold" fill="#111" text-anchor="end" textLength="16.21" lengthAdjust="spacingAndGlyphs" stroke="#111" stroke-width="0.25">2,000</text>
<text x="59.2" y="272.88" font-size="4.1" font-weight="bold" fill="#111" text-anchor="end" textLength="16.21" lengthAdjust="spacingAndGlyphs" stroke="#111" stroke-width="0.25">2,100</text>
<text x="0" y="0" font-size="9.6" font-weight="bold" fill="#111" text-anchor="middle" textLength="16.8" lengthAdjust="spacingAndGlyphs" stroke="#111" stroke-width="0.1" transform="translate(38.6,360) rotate(-90)">Counts</text>
<line x1="65.8" y1="454.5" x2="65.8" y2="456.6" stroke="#333" stroke-width="0.9"/>
<line x1="72.72" y1="454.5" x2="72.72" y2="455.8" stroke="#333" stroke-width="0.9"/>
<line x1="79.64" y1="454.5" x2="79.64" y2="455.8" stroke="#333" stroke-width="0.9"/>
<line x1="86.56" y1="454.5" x2="86.56" y2="455.8" stroke="#333" stroke-width="0.9"/>
<line x1="93.48" y1="454.5" x2="93.48" y2="455.8" stroke="#333" stroke-width="0.9"/>
<line x1="100.4" y1="454.5" x2="100.4" y2="457.5" stroke="#333" stroke-width="0.9"/>
<line x1="107.32" y1="454.5" x2="107.32" y2="455.8" stroke="#333" stroke-width="0.9"/>
<line x1="114.24" y1="454.5" x2="114.24" y2="455.8" stroke="#333" stroke-width="0.9"/>
<line x1="121.16" y1="454.5" x2="121.16" y2="455.8" stroke="#333" stroke-width="0.9"/>
<line x1="128.08" y1="454.5" x2="128.08" y2="455.8" stroke="#333" stroke-width="0.9"/>
<line x1="135" y1="454.5" x2="135" y2="456.6" stroke="#333" stroke-width="0.9"/>
<line x1="141.92" y1="454.5" x2="141.92" y2="455.8" stroke="#333" stroke-width="0.9"/>
<line x1="148.84" y1="454.5" x2="148.84" y2="455.8" stroke="#333" stroke-width="0.9"/>
<line x1="155.76" y1="454.5" x2="155.76" y2="455.8" stroke="#333" stroke-width="0.9"/>
<line x1="162.68" y1="454.5" x2="162.68" y2="455.8" stroke="#333" stroke-width="0.9"/>
<line x1="169.6" y1="454.5" x2="169.6" y2="457.5" stroke="#333" stroke-width="0.9"/>
<line x1="176.52" y1="454.5" x2="176.52" y2="455.8" stroke="#333" stroke-width="0.9"/>
<line x1="183.44" y1="454.5" x2="183.44" y2="455.8" stroke="#333" stroke-width="0.9"/>
<line x1="190.36" y1="454.5" x2="190.36" y2="455.8" stroke="#333" stroke-width="0.9"/>
<line x1="197.28" y1="454.5" x2="197.28" y2="455.8" stroke="#333" stroke-width="0.9"/>
<line x1="204.2" y1="454.5" x2="204.2" y2="456.6" stroke="#333" stroke-width="0.9"/>
<line x1="211.12" y1="454.5" x2="211.12" y2="455.8" stroke="#333" stroke-width="0.9"/>
<line x1="218.04" y1="454.5" x2="218.04" y2="455.8" stroke="#333" stroke-width="0.9"/>
<line x1="224.96" y1="454.5" x2="224.96" y2="455.8" stroke="#333" stroke-width="0.9"/>
<line x1="231.88" y1="454.5" x2="231.88" y2="455.8" stroke="#333" stroke-width="0.9"/>
<line x1="238.8" y1="454.5" x2="238.8" y2="457.5" stroke="#333" stroke-width="0.9"/>
<line x1="245.72" y1="454.5" x2="245.72" y2="455.8" stroke="#333" stroke-width="0.9"/>
<line x1="252.64" y1="454.5" x2="252.64" y2="455.8" stroke="#333" stroke-width="0.9"/>
<line x1="259.56" y1="454.5" x2="259.56" y2="455.8" stroke="#333" stroke-width="0.9"/>
<line x1="266.48" y1="454.5" x2="266.48" y2="455.8" stroke="#333" stroke-width="0.9"/>
<line x1="273.4" y1="454.5" x2="273.4" y2="456.6" stroke="#333" stroke-width="0.9"/>
<line x1="280.32" y1="454.5" x2="280.32" y2="455.8" stroke="#333" stroke-width="0.9"/>
<line x1="287.24" y1="454.5" x2="287.24" y2="455.8" stroke="#333" stroke-width="0.9"/>
<line x1="294.16" y1="454.5" x2="294.16" y2="455.8" stroke="#333" stroke-width="0.9"/>
<line x1="301.08" y1="454.5" x2="301.08" y2="455.8" stroke="#333" stroke-width="0.9"/>
<line x1="308" y1="454.5" x2="308" y2="457.5" stroke="#333" stroke-width="0.9"/>
<line x1="314.92" y1="454.5" x2="314.92" y2="455.8" stroke="#333" stroke-width="0.9"/>
<line x1="321.84" y1="454.5" x2="321.84" y2="455.8" stroke="#333" stroke-width="0.9"/>
<line x1="328.76" y1="454.5" x2="328.76" y2="455.8" stroke="#333" stroke-width="0.9"/>
<line x1="335.68" y1="454.5" x2="335.68" y2="455.8" stroke="#333" stroke-width="0.9"/>
<line x1="342.6" y1="454.5" x2="342.6" y2="456.6" stroke="#333" stroke-width="0.9"/>
<line x1="349.52" y1="454.5" x2="349.52" y2="455.8" stroke="#333" stroke-width="0.9"/>
<line x1="356.44" y1="454.5" x2="356.44" y2="455.8" stroke="#333" stroke-width="0.9"/>
<line x1="363.36" y1="454.5" x2="363.36" y2="455.8" stroke="#333" stroke-width="0.9"/>
<line x1="370.28" y1="454.5" x2="370.28" y2="455.8" stroke="#333" stroke-width="0.9"/>
<line x1="377.2" y1="454.5" x2="377.2" y2="457.5" stroke="#333" stroke-width="0.9"/>
<line x1="384.12" y1="454.5" x2="384.12" y2="455.8" stroke="#333" stroke-width="0.9"/>
<line x1="391.04" y1="454.5" x2="391.04" y2="455.8" stroke="#333" stroke-width="0.9"/>
<line x1="397.96" y1="454.5" x2="397.96" y2="455.8" stroke="#333" stroke-width="0.9"/>
<line x1="404.88" y1="454.5" x2="404.88" y2="455.8" stroke="#333" stroke-width="0.9"/>
<line x1="411.8" y1="454.5" x2="411.8" y2="456.6" stroke="#333" stroke-width="0.9"/>
<line x1="418.72" y1="454.5" x2="418.72" y2="455.8" stroke="#333" stroke-width="0.9"/>
<line x1="425.64" y1="454.5" x2="425.64" y2="455.8" stroke="#333" stroke-width="0.9"/>
<line x1="432.56" y1="454.5" x2="432.56" y2="455.8" stroke="#333" stroke-width="0.9"/>
<line x1="439.48" y1="454.5" x2="439.48" y2="455.8" stroke="#333" stroke-width="0.9"/>
<line x1="446.4" y1="454.5" x2="446.4" y2="457.5" stroke="#333" stroke-width="0.9"/>
<line x1="453.32" y1="454.5" x2="453.32" y2="455.8" stroke="#333" stroke-width="0.9"/>
<line x1="460.24" y1="454.5" x2="460.24" y2="455.8" stroke="#333" stroke-width="0.9"/>
<line x1="467.16" y1="454.5" x2="467.16" y2="455.8" stroke="#333" stroke-width="0.9"/>
<line x1="474.08" y1="454.5" x2="474.08" y2="455.8" stroke="#333" stroke-width="0.9"/>
<line x1="481" y1="454.5" x2="481" y2="456.6" stroke="#333" stroke-width="0.9"/>
<line x1="487.92" y1="454.5" x2="487.92" y2="455.8" stroke="#333" stroke-width="0.9"/>
<line x1="494.84" y1="454.5" x2="494.84" y2="455.8" stroke="#333" stroke-width="0.9"/>
<line x1="501.76" y1="454.5" x2="501.76" y2="455.8" stroke="#333" stroke-width="0.9"/>
<line x1="508.68" y1="454.5" x2="508.68" y2="455.8" stroke="#333" stroke-width="0.9"/>
<line x1="515.6" y1="454.5" x2="515.6" y2="457.5" stroke="#333" stroke-width="0.9"/>
<line x1="522.52" y1="454.5" x2="522.52" y2="455.8" stroke="#333" stroke-width="0.9"/>
<line x1="529.44" y1="454.5" x2="529.44" y2="455.8" stroke="#333" stroke-width="0.9"/>
<line x1="536.36" y1="454.5" x2="536.36" y2="455.8" stroke="#333" stroke-width="0.9"/>
<line x1="543.28" y1="454.5" x2="543.28" y2="455.8" stroke="#333" stroke-width="0.9"/>
<line x1="550.2" y1="454.5" x2="550.2" y2="456.6" stroke="#333" stroke-width="0.9"/>
<line x1="557.12" y1="454.5" x2="557.12" y2="455.8" stroke="#333" stroke-width="0.9"/>
<line x1="564.04" y1="454.5" x2="564.04" y2="455.8" stroke="#333" stroke-width="0.9"/>
<line x1="570.96" y1="454.5" x2="570.96" y2="455.8" stroke="#333" stroke-width="0.9"/>
<line x1="577.88" y1="454.5" x2="577.88" y2="455.8" stroke="#333" stroke-width="0.9"/>
<line x1="584.8" y1="454.5" x2="584.8" y2="457.5" stroke="#333" stroke-width="0.9"/>
<line x1="591.72" y1="454.5" x2="591.72" y2="455.8" stroke="#333" stroke-width="0.9"/>
<line x1="598.64" y1="454.5" x2="598.64" y2="455.8" stroke="#333" stroke-width="0.9"/>
<line x1="605.56" y1="454.5" x2="605.56" y2="455.8" stroke="#333" stroke-width="0.9"/>
<line x1="612.48" y1="454.5" x2="612.48" y2="455.8" stroke="#333" stroke-width="0.9"/>
<line x1="619.4" y1="454.5" x2="619.4" y2="456.6" stroke="#333" stroke-width="0.9"/>
<line x1="626.32" y1="454.5" x2="626.32" y2="455.8" stroke="#333" stroke-width="0.9"/>
<line x1="633.24" y1="454.5" x2="633.24" y2="455.8" stroke="#333" stroke-width="0.9"/>
<line x1="640.16" y1="454.5" x2="640.16" y2="455.8" stroke="#333" stroke-width="0.9"/>
<line x1="647.08" y1="454.5" x2="647.08" y2="455.8" stroke="#333" stroke-width="0.9"/>
<text x="100.4" y="461.7" font-size="4.1" font-weight="bold" fill="#111" text-anchor="middle" textLength="6.61" lengthAdjust="spacingAndGlyphs" stroke="#111" stroke-width="0.25">10</text>
<text x="169.6" y="461.7" font-size="4.1" font-weight="bold" fill="#111" text-anchor="middle" textLength="6.61" lengthAdjust="spacingAndGlyphs" stroke="#111" stroke-width="0.25">20</text>
<text x="238.8" y="461.7" font-size="4.1" font-weight="bold" fill="#111" text-anchor="middle" textLength="6.61" lengthAdjust="spacingAndGlyphs" stroke="#111" stroke-width="0.25">30</text>
<text x="308" y="461.7" font-size="4.1" font-weight="bold" fill="#111" text-anchor="middle" textLength="6.61" lengthAdjust="spacingAndGlyphs" stroke="#111" stroke-width="0.25">40</text>
<text x="377.2" y="461.7" font-size="4.1" font-weight="bold" fill="#111" text-anchor="middle" textLength="6.61" lengthAdjust="spacingAndGlyphs" stroke="#111" stroke-width="0.25">50</text>
<text x="446.4" y="461.7" font-size="4.1" font-weight="bold" fill="#111" text-anchor="middle" textLength="6.61" lengthAdjust="spacingAndGlyphs" stroke="#111" stroke-width="0.25">60</text>
<text x="515.6" y="461.7" font-size="4.1" font-weight="bold" fill="#111" text-anchor="middle" textLength="6.61" lengthAdjust="spacingAndGlyphs" stroke="#111" stroke-width="0.25">70</text>
<text x="584.8" y="461.7" font-size="4.1" font-weight="bold" fill="#111" text-anchor="middle" textLength="6.61" lengthAdjust="spacingAndGlyphs" stroke="#111" stroke-width="0.25">80</text>
<text x="260.7" y="474.3" font-size="5.8" font-weight="bold" fill="#1a1a1a" text-anchor="start" textLength="192.4" lengthAdjust="spacingAndGlyphs" stroke="#1a1a1a" stroke-width="0.05">2Theta (Coupled TwoTheta/Theta) WL=1.54060</text>
<path d="M65.1,397.6 C66.3,397.27 69.75,396.12 72.3,395.6 C74.85,395.08 77.68,394.75 80.4,394.5 C83.12,394.25 85.87,394.02 88.6,394.1 C91.33,394.18 94.07,394.52 96.8,395 C99.53,395.48 102.27,396.15 105,397 C107.73,397.85 110.48,398.98 113.2,400.1 C115.92,401.22 118.58,402.23 121.3,403.7 C124.02,405.17 126.77,407.02 129.5,408.9 C132.23,410.78 134.97,412.97 137.7,415 C140.43,417.03 143.52,419.23 145.9,421.1 C148.28,422.97 150.3,424.67 152,426.2 C153.7,427.73 154.43,428.75 156.1,430.3 C157.77,431.85 159.95,433.88 162,435.5 C164.05,437.12 166.07,438.75 168.4,440 C170.73,441.25 172.4,442.25 176,443 C179.6,443.75 183.67,444.23 190,444.5 C196.33,444.77 202.33,444.52 214,444.6 C225.67,444.68 240.67,444.9 260,445 C279.33,445.1 315.67,445.05 330,445.2 C344.33,445.35 339.5,445.5 346,445.9 C352.5,446.3 360,447.23 369,447.6 C378,447.97 388.17,447.9 400,448.1 C411.83,448.3 420,448.55 440,448.8 C460,449.05 485.25,449.38 520,449.6 C554.75,449.82 627.08,450.02 648.5,450.1" fill="none" stroke="#888" stroke-width="0.8"/>
<path d="M159.9,435.2 160.0,436.1 160.2,436.2 160.3,435.9 160.4,437.5 160.6,437.5 160.7,435.9 160.9,436.1 161.0,437.1 161.1,436.3 161.3,437.4 161.4,438.6 161.6,437.3 161.7,438.1 161.8,436.5 162.0,438.1 162.1,439.0 162.3,438.2 162.4,439.7 162.5,438.1 162.7,439.7 162.8,440.0 163.0,438.8 163.1,438.8 163.2,439.5 163.4,439.1 163.5,437.7 163.7,440.7 163.8,438.0 163.9,438.3 164.1,438.9 164.2,439.6 164.4,440.5 164.5,438.7 164.6,437.8 164.8,438.5 164.9,438.8 165.1,437.6 165.2,439.6 165.3,440.7 165.5,437.4 165.6,441.1 165.8,439.9 165.9,440.5 166.0,440.0 166.2,439.2 166.3,438.1 166.5,438.3 166.6,439.6 166.7,440.6 166.9,440.8 167.0,441.2 167.2,441.2 167.3,441.5 167.4,440.9 167.6,441.3 167.7,440.9 167.9,441.5 168.0,441.3 168.1,439.4 168.3,441.3 168.4,441.3 168.6,440.6 168.7,442.0 168.8,440.8 169.0,442.3 169.1,441.4 169.3,441.6 169.4,440.1 169.5,441.6 169.7,441.2 169.8,441.1 170.0,439.7 170.1,441.1 170.2,440.8 170.4,440.5 170.5,442.1 170.7,442.1 170.8,441.4 170.9,442.1 171.1,442.0 171.2,440.9 171.4,441.5 171.5,442.2 171.6,442.1 171.8,442.5 171.9,441.8 172.1,440.4 172.2,442.1 172.3,443.3 172.5,442.2 172.6,443.0 172.8,443.2 172.9,443.3 173.0,443.9 173.2,443.4 173.3,443.6 173.5,444.1 173.6,442.8 173.7,442.7 173.9,443.1 174.0,443.5 174.2,441.5 174.3,441.9 174.4,442.9 174.6,442.5 174.7,443.4 174.9,443.1 175.0,442.4 175.1,443.0 175.3,442.2 175.4,441.4 175.6,442.1 175.7,440.2 175.8,442.9 176.0,441.7 176.1,441.7 176.3,441.9 176.4,441.7 176.5,442.2 176.7,444.7 176.8,445.1 177.0,443.1 177.1,443.8 177.2,442.4 177.4,442.2 177.5,442.4 177.7,442.7 177.8,442.5 177.9,444.0 178.1,443.5 178.2,442.8 178.4,444.1 178.5,441.8 178.6,443.6 178.8,442.0 178.9,442.8 179.1,443.8 179.2,443.0 179.3,444.3 179.5,443.0 179.6,442.7 179.8,442.1 179.9,442.0 180.0,443.9 180.2,443.3 180.3,443.1 180.5,445.0 180.6,445.0 180.7,443.9 180.9,443.8 181.0,444.0 181.2,445.2 181.3,444.3 181.4,443.7 181.6,445.3 181.7,443.3 181.9,444.6 182.0,446.3 182.1,445.2 182.3,446.2 182.4,444.9 182.6,443.0 182.7,444.3 182.8,443.4 183.0,445.1 183.1,444.8 183.3,444.5 183.4,444.0 183.5,446.2 183.7,445.0 183.8,445.4 184.0,443.4 184.1,444.1 184.2,444.2 184.4,444.7 184.5,443.3 184.7,443.6 184.8,445.1 184.9,444.8 185.1,445.3 185.2,444.3 185.4,443.8 185.5,444.1 185.6,444.5 185.8,443.2 185.9,443.8 186.1,443.1 186.2,443.7 186.3,443.5 186.5,444.1 186.6,442.7 186.8,443.8 186.9,444.6 187.0,443.9 187.2,444.7 187.3,443.2 187.5,444.5 187.6,444.2 187.7,444.1 187.9,444.8 188.0,444.7 188.2,442.9 188.3,443.9 188.4,443.9 188.6,444.0 188.7,444.9 188.9,444.5 189.0,444.5 189.1,443.8 189.3,444.9 189.4,444.5 189.6,444.9 189.7,444.9 189.8,443.7 190.0,444.6 190.1,445.9 190.3,444.7 190.4,444.3 190.5,444.5 190.7,443.7 190.8,444.6 191.0,444.2 191.1,444.9 191.2,444.9 191.4,443.3 191.5,443.0 191.7,444.2 191.8,444.2 191.9,443.8 192.1,444.1 192.2,445.3 192.4,444.4 192.5,445.0 192.6,444.5 192.8,444.6 192.9,444.4 193.1,443.9 193.2,444.5 193.3,444.1 193.5,444.3 193.6,445.0 193.8,446.4 193.9,444.1 194.0,444.1 194.2,444.6 194.3,445.3 194.5,445.1 194.6,442.8 194.7,443.8 194.9,444.9 195.0,443.5 195.2,444.2 195.3,445.4 195.4,444.2 195.6,444.6 195.7,444.1 195.9,445.1 196.0,444.9 196.1,445.3 196.3,444.8 196.4,445.2 196.6,444.5 196.7,445.5 196.8,443.8 197.0,445.1 197.1,444.4 197.3,444.0 197.4,443.9 197.5,443.6 197.7,443.6 197.8,444.7 198.0,445.2 198.1,444.9 198.2,444.2 198.4,442.2 198.5,442.6 198.7,442.0 198.8,443.5 198.9,444.3 199.1,443.4 199.2,444.7 199.4,444.6 199.5,445.5 199.6,443.8 199.8,444.0 199.9,444.9 200.1,445.2 200.2,445.6 200.3,445.7 200.5,444.5 200.6,444.5 200.8,445.1 200.9,444.4 201.0,444.3 201.2,444.4 201.3,443.9 201.5,445.3 201.6,445.8 201.7,444.7 201.9,444.5 202.0,444.2 202.2,443.6 202.3,444.9 202.4,444.1 202.6,443.8 202.7,443.5 202.9,443.8 203.0,443.7 203.1,444.1 203.3,444.0 203.4,444.8 203.6,443.7 203.7,443.7 203.8,444.3 204.0,442.6 204.1,444.3 204.3,443.2 204.4,444.8 204.5,443.8 204.7,444.4 204.8,444.5 205.0,444.6 205.1,444.1 205.2,444.7 205.4,444.2 205.5,444.5 205.7,445.2 205.8,444.5 205.9,444.4 206.1,443.4 206.2,444.9 206.4,443.5 206.5,442.5 206.6,443.3 206.8,444.4 206.9,443.5 207.1,443.1 207.2,443.6 207.3,443.6 207.5,443.7 207.6,442.5 207.8,443.6 207.9,444.6 208.0,444.0 208.2,443.9 208.3,442.4 208.5,444.3 208.6,444.2 208.7,443.3 208.9,443.8 209.0,443.1 209.2,443.5 209.3,444.4 209.4,444.0 209.6,445.4 209.7,444.9 209.9,443.8 210.0,444.9 210.1,444.1 210.3,444.3 210.4,446.0 210.6,442.7 210.7,444.6 210.8,444.8 211.0,444.7 211.1,444.3 211.3,446.0 211.4,445.4 211.5,445.8 211.7,443.8 211.8,444.4 212.0,442.6 212.1,444.9 212.2,443.9 212.4,442.8 212.5,442.1 212.7,443.2 212.8,443.2 212.9,443.1 213.1,444.0 213.2,444.4 213.4,443.8 213.5,442.6 213.6,443.7 213.8,442.9 213.9,444.5 214.1,442.8 214.2,444.0 214.3,443.3 214.5,444.4 214.6,444.7 214.8,443.2 214.9,442.0 215.0,444.0 215.2,443.3 215.3,443.1 215.5,444.5 215.6,443.6 215.7,443.4 215.9,442.4 216.0,443.0 216.2,443.0 216.3,442.2 216.4,442.1 216.6,441.0 216.7,440.0 216.9,437.0 217.0,434.0 217.1,430.9 217.2,431.0 217.3,432.1 217.4,436.8 217.6,438.8 217.7,440.3 217.8,441.6 218.0,442.3 218.1,443.4 218.3,444.0 218.4,444.0 218.5,444.0 218.7,444.6 218.8,444.4 219.0,445.2 219.1,444.1 219.2,444.6 219.4,443.7 219.5,444.6 219.7,444.9 219.8,444.6 219.9,444.8 220.1,444.4 220.2,444.4 220.4,444.4 220.5,444.8 220.6,445.9 220.8,444.3 220.9,443.7 221.1,444.7 221.2,444.1 221.3,444.1 221.5,444.9 221.6,444.5 221.8,444.3 221.9,442.7 222.0,443.5 222.2,444.4 222.3,444.7 222.5,445.1 222.6,445.5 222.7,445.1 222.9,444.8 223.0,444.3 223.2,443.8 223.3,445.3 223.4,445.1 223.6,444.6 223.7,445.1 223.9,445.4 224.0,445.0 224.1,445.6 224.3,445.2 224.4,445.1 224.6,444.7 224.7,445.1 224.8,446.0 225.0,445.3 225.1,446.9 225.3,443.8 225.4,445.0 225.5,446.3 225.7,445.6 225.8,444.0 226.0,443.3 226.1,444.5 226.2,443.7 226.4,444.5 226.5,444.4 226.7,444.0 226.8,445.4 226.9,445.3 227.1,447.5 227.2,446.9 227.4,445.0 227.5,446.3 227.6,444.0 227.8,445.4 227.9,444.6 228.1,445.8 228.2,444.9 228.3,445.1 228.5,444.4 228.6,444.1 228.8,445.8 228.9,445.7 229.0,445.7 229.2,445.2 229.3,445.1 229.5,446.9 229.6,445.1 229.7,445.0 229.9,445.1 230.0,445.8 230.2,443.6 230.3,444.5 230.4,446.1 230.6,444.8 230.7,445.9 230.9,446.7 231.0,445.0 231.1,445.6 231.3,445.8 231.4,445.2 231.6,445.0 231.7,445.2 231.8,445.2 232.0,445.1 232.1,445.1 232.3,444.4 232.4,445.4 232.5,445.1 232.7,444.4 232.8,445.4 233.0,445.7 233.1,444.6 233.2,445.1 233.4,445.3 233.5,443.9 233.7,444.8 233.8,446.1 233.9,445.8 234.1,445.6 234.2,445.7 234.4,446.2 234.5,443.8 234.6,444.5 234.8,445.7 234.9,444.9 235.1,444.3 235.2,444.6 235.3,444.0 235.5,444.9 235.6,444.9 235.8,444.3 235.9,444.5 236.0,443.1 236.2,444.0 236.3,444.6 236.5,445.3 236.6,444.6 236.7,445.5 236.9,445.6 237.0,445.8 237.2,445.6 237.3,444.5 237.4,445.4 237.6,444.4 237.7,445.3 237.9,444.3 238.0,444.1 238.1,444.7 238.3,444.2 238.4,445.1 238.6,444.7 238.7,444.4 238.8,444.6 239.0,444.8 239.1,445.4 239.3,444.1 239.4,444.7 239.5,443.5 239.7,444.3 239.8,443.2 240.0,443.7 240.1,443.7 240.2,444.1 240.4,443.1 240.5,443.9 240.7,443.9 240.8,443.5 240.9,444.2 241.1,443.9 241.2,443.5 241.4,443.6 241.5,444.3 241.6,444.3 241.8,442.6 241.9,443.9 242.1,444.1 242.2,444.3 242.3,444.5 242.5,445.2 242.6,444.3 242.8,445.4 242.9,445.2 243.0,443.8 243.2,444.2 243.3,443.6 243.5,443.7 243.6,443.9 243.7,443.3 243.9,441.3 244.0,442.8 244.2,443.0 244.3,442.7 244.4,441.7 244.6,440.9 244.7,441.0 244.9,439.6 245.0,439.0 245.1,438.4 245.3,436.7 245.4,436.6 245.6,433.7 245.7,433.5 245.8,429.5 246.0,426.2 246.1,421.4 246.3,414.9 246.4,405.3 246.5,390.3 246.7,366.9 246.8,336.6 247.0,299.2 247.1,282.3 247.1,283.1 247.2,301.1 247.4,338.6 247.5,368.8 247.7,392.2 247.8,405.5 247.9,415.8 248.1,421.9 248.2,426.9 248.4,428.8 248.5,432.9 248.6,435.7 248.8,434.5 248.9,437.0 249.1,437.3 249.2,438.8 249.3,440.3 249.5,439.4 249.6,439.7 249.8,439.8 249.9,441.9 250.0,442.2 250.2,440.9 250.3,442.8 250.5,442.7 250.6,443.2 250.7,443.2 250.9,442.5 251.0,441.5 251.2,442.9 251.3,441.6 251.4,442.8 251.6,442.6 251.7,444.2 251.9,443.5 252.0,443.6 252.1,443.5 252.3,444.0 252.4,443.8 252.6,444.3 252.7,444.5 252.8,444.3 253.0,444.5 253.1,444.8 253.3,445.0 253.4,445.3 253.5,445.0 253.7,445.1 253.8,445.2 254.0,444.1 254.1,445.0 254.2,444.9 254.4,445.0 254.5,444.1 254.7,444.0 254.8,443.6 254.9,444.0 255.1,445.4 255.2,444.6 255.4,444.8 255.5,445.3 255.6,445.4 255.8,444.2 255.9,444.7 256.1,444.5 256.2,443.8 256.3,444.0 256.5,442.1 256.6,444.2 256.8,443.5 256.9,444.8 257.0,443.5 257.2,444.3 257.3,444.8 257.5,444.3 257.6,443.3 257.7,442.5 257.9,442.7 258.0,443.6 258.2,443.1 258.3,443.7 258.4,443.4 258.6,443.5 258.7,443.3 258.9,443.9 259.0,443.2 259.1,444.2 259.3,443.0 259.4,442.6 259.6,443.9 259.7,443.3 259.8,444.2 260.0,443.3 260.1,442.2 260.3,443.7 260.4,444.6 260.5,444.0 260.7,445.5 260.8,444.8 261.0,443.8 261.1,445.2 261.2,444.1 261.4,445.3 261.5,443.7 261.7,443.4 261.8,444.5 261.9,444.8 262.1,444.4 262.2,444.3 262.4,443.9 262.5,443.7 262.6,443.5 262.8,443.9 262.9,443.2 263.1,443.2 263.2,444.6 263.3,444.1 263.5,444.2 263.6,444.7 263.8,444.4 263.9,445.2 264.0,444.9 264.2,444.5 264.3,444.4 264.5,444.5 264.6,445.0 264.7,443.7 264.9,444.5 265.0,445.6 265.2,445.3 265.3,445.7 265.4,446.1 265.6,444.3 265.7,443.4 265.9,443.6 266.0,442.9 266.1,444.0 266.3,444.2 266.4,444.2 266.6,444.9 266.7,444.5 266.8,443.3 267.0,444.4 267.1,443.8 267.3,445.8 267.4,445.2 267.5,445.5 267.7,444.0 267.8,443.7 268.0,443.9 268.1,443.1 268.2,442.2 268.4,443.6 268.5,443.6 268.7,444.3 268.8,445.1 268.9,445.4 269.1,444.8 269.2,445.9 269.4,445.6 269.5,445.7 269.6,445.6 269.8,445.0 269.9,445.2 270.1,444.4 270.2,443.7 270.3,444.3 270.5,443.2 270.6,443.6 270.8,443.9 270.9,443.9 271.0,444.6 271.2,444.8 271.3,444.3 271.5,443.4 271.6,444.1 271.7,444.8 271.9,445.3 272.0,446.0 272.2,444.9 272.3,444.8 272.4,446.1 272.6,444.6 272.7,444.7 272.9,443.8 273.0,444.6 273.1,445.5 273.3,444.6 273.4,445.6 273.6,445.5 273.7,445.4 273.8,445.4 274.0,445.1 274.1,445.4 274.3,445.0 274.4,444.3 274.5,445.3 274.7,444.5 274.8,445.3 275.0,443.2 275.1,446.1 275.2,445.0 275.4,443.0 275.5,444.6 275.7,444.2 275.8,444.0 275.9,444.8 276.1,444.7 276.2,443.3 276.4,443.6 276.5,443.6 276.6,443.6 276.8,444.0 276.9,443.4 277.1,444.8 277.2,443.2 277.3,443.5 277.5,444.5 277.6,444.4 277.8,443.7 277.9,445.4 278.0,445.6 278.2,445.6 278.3,444.7 278.5,445.3 278.6,444.3 278.7,444.7 278.9,444.6 279.0,446.0 279.2,445.0 279.3,445.4 279.4,444.8 279.6,444.9 279.7,443.6 279.9,445.8 280.0,444.8 280.1,444.9 280.3,445.7 280.4,446.2 280.6,446.3 280.7,444.8 280.8,444.9 281.0,445.3 281.1,445.3 281.3,445.2 281.4,445.2 281.5,444.9 281.7,445.3 281.8,444.5 282.0,446.0 282.1,445.8 282.2,445.3 282.4,444.6 282.5,444.5 282.7,445.6 282.8,444.6 282.9,444.7 283.1,444.8 283.2,445.9 283.4,444.4 283.5,444.1 283.6,444.2 283.8,444.1 283.9,443.9 284.1,443.1 284.2,444.6 284.3,443.5 284.5,444.6 284.6,443.9 284.8,444.5 284.9,444.2 285.0,444.4 285.2,445.2 285.3,445.0 285.5,446.0 285.6,444.6 285.7,445.5 285.9,446.4 286.0,445.9 286.2,446.2 286.3,445.9 286.4,447.0 286.6,444.6 286.7,445.1 286.9,445.5 287.0,445.1 287.1,444.1 287.3,444.7 287.4,445.4 287.6,445.9 287.7,445.2 287.8,446.8 288.0,447.0 288.1,445.0 288.3,447.2 288.4,446.2 288.5,444.6 288.7,445.6 288.8,446.4 289.0,445.1 289.1,445.9 289.2,444.4 289.4,445.3 289.5,445.6 289.7,446.2 289.8,445.0 289.9,446.7 290.1,444.9 290.2,445.3 290.4,445.8 290.5,444.8 290.6,444.9 290.8,444.5 290.9,445.3 291.1,444.9 291.2,443.3 291.3,444.7 291.5,444.5 291.6,445.0 291.8,444.1 291.9,445.3 292.0,444.4 292.2,445.5 292.3,446.0 292.5,445.9 292.6,444.5 292.7,445.4 292.9,444.8 293.0,444.0 293.2,443.8 293.3,444.6 293.4,442.8 293.6,443.0 293.7,443.3 293.9,443.7 294.0,443.5 294.1,443.4 294.3,444.8 294.4,444.8 294.6,445.1 294.7,444.9 294.8,445.2 295.0,445.3 295.1,444.9 295.3,444.4 295.4,445.8 295.5,444.7 295.7,445.9 295.8,443.0 296.0,445.0 296.1,444.0 296.2,444.6 296.4,445.5 296.5,444.6 296.7,445.1 296.8,446.4 296.9,444.9 297.1,443.8 297.2,444.8 297.4,446.4 297.5,444.5 297.6,443.1 297.8,444.8 297.9,444.2 298.1,445.0 298.2,444.6 298.3,445.7 298.5,445.0 298.6,445.8 298.8,445.6 298.9,444.9 299.0,446.0 299.2,444.7 299.3,445.1 299.5,444.3 299.6,445.4 299.7,445.4 299.9,445.0 300.0,445.3 300.2,444.3 300.3,446.0 300.4,446.6 300.6,446.0 300.7,444.7 300.9,445.6 301.0,444.5 301.1,444.8 301.3,445.3 301.4,444.2 301.6,446.0 301.7,445.0 301.8,445.0 302.0,444.8 302.1,445.1 302.3,444.6 302.4,444.7 302.5,444.3 302.7,445.7 302.8,445.0 303.0,445.3 303.1,445.5 303.2,445.3 303.4,445.2 303.5,445.6 303.7,445.9 303.8,445.3 303.9,444.9 304.1,443.3 304.2,445.2 304.4,445.4 304.5,443.4 304.6,443.6 304.8,444.8 304.9,444.8 305.1,445.5 305.2,445.4 305.3,445.1 305.5,445.4 305.6,444.2 305.8,444.3 305.9,443.8 306.0,443.7 306.2,445.5 306.3,445.0 306.5,445.6 306.6,445.8 306.7,446.1 306.9,446.4 307.0,445.3 307.2,445.2 307.3,445.5 307.4,445.6 307.6,445.3 307.7,444.5 307.9,444.2 308.0,444.4 308.1,444.3 308.3,445.1 308.4,443.8 308.6,445.3 308.7,445.3 308.8,445.2 309.0,445.1 309.1,444.4 309.3,445.6 309.4,443.8 309.5,442.0 309.7,443.3 309.8,445.3 310.0,443.9 310.1,444.1 310.2,444.5 310.4,444.2 310.5,444.3 310.7,444.3 310.8,443.4 310.9,444.1 311.1,442.3 311.2,443.2 311.4,443.4 311.5,443.8 311.6,442.5 311.8,443.9 311.9,445.4 312.1,444.3 312.2,443.5 312.3,443.9 312.5,445.0 312.6,443.4 312.8,442.8 312.9,444.0 313.0,444.3 313.2,445.4 313.3,443.1 313.5,444.5 313.6,444.8 313.7,444.3 313.9,444.2 314.0,443.9 314.2,444.1 314.3,444.4 314.4,445.0 314.6,443.6 314.7,444.7 314.9,443.8 315.0,444.4 315.1,444.8 315.3,444.0 315.4,444.0 315.6,445.0 315.7,444.9 315.8,443.7 316.0,444.3 316.1,444.5 316.3,444.9 316.4,444.1 316.5,443.8 316.7,443.0 316.8,443.8 317.0,442.2 317.1,442.5 317.2,443.0 317.4,442.2 317.5,443.4 317.7,442.7 317.8,442.1 317.9,443.2 318.1,442.5 318.2,443.8 318.4,444.1 318.5,444.0 318.6,444.6 318.8,444.9 318.9,444.8 319.1,446.0 319.2,444.7 319.3,445.0 319.5,446.0 319.6,446.1 319.8,445.2 319.9,445.0 320.0,446.4 320.2,444.6 320.3,445.3 320.5,445.4 320.6,444.5 320.7,445.1 320.9,446.9 321.0,445.4 321.2,445.1 321.3,446.3 321.4,444.6 321.6,444.9 321.7,446.2 321.9,443.9 322.0,444.3 322.1,443.8 322.3,445.0 322.4,443.7 322.6,444.6 322.7,443.7 322.8,444.1 323.0,444.6 323.1,444.6 323.3,443.5 323.4,444.8 323.5,443.9 323.7,444.4 323.8,443.7 324.0,444.2 324.1,443.8 324.2,443.8 324.4,444.5 324.5,443.9 324.7,444.6 324.8,445.1 324.9,445.3 325.1,444.7 325.2,444.9 325.4,445.0 325.5,444.2 325.6,444.4 325.8,444.3 325.9,444.7 326.1,444.7 326.2,443.6 326.3,444.0 326.5,444.1 326.6,444.1 326.8,444.2 326.9,445.2 327.0,444.0 327.2,444.6 327.3,444.7 327.5,444.9 327.6,445.1 327.7,443.9 327.9,445.1 328.0,445.2 328.2,444.6 328.3,444.5 328.4,443.6 328.6,444.8 328.7,444.2 328.9,444.8 329.0,443.8 329.1,444.5 329.3,445.0 329.4,443.9 329.6,444.1 329.7,443.8 329.8,445.0 330.0,443.9 330.1,445.5 330.3,444.5 330.4,444.1 330.5,446.3 330.7,445.2 330.8,444.9 331.0,444.8 331.1,445.1 331.2,444.9 331.4,445.3 331.5,445.2 331.7,443.8 331.8,443.8 331.9,443.4 332.1,444.2 332.2,444.5 332.4,443.8 332.5,443.8 332.6,443.0 332.8,444.3 332.9,443.6 333.1,443.9 333.2,445.3 333.3,444.3 333.5,444.3 333.6,444.5 333.8,444.6 333.9,445.1 334.0,444.5 334.2,444.7 334.3,443.9 334.5,444.8 334.6,445.5 334.7,444.2 334.9,444.5 335.0,444.4 335.2,444.4 335.3,444.4 335.4,445.9 335.6,444.7 335.7,443.3 335.9,444.8 336.0,444.9 336.1,443.8 336.3,445.1 336.4,445.0 336.6,445.6 336.7,444.9 336.8,445.4 337.0,445.4 337.1,444.9 337.3,443.4 337.4,443.9 337.5,443.8 337.7,444.6 337.8,443.8 338.0,443.4 338.1,444.1 338.2,444.4 338.4,443.9 338.5,444.8 338.7,444.3 338.8,444.6 338.9,445.2 339.1,445.1 339.2,442.4 339.4,443.2 339.5,443.5 339.6,442.1 339.8,442.5 339.9,442.8 340.1,442.3 340.2,441.8 340.3,441.3 340.5,441.7 340.6,440.2 340.8,439.9 340.9,439.5 341.0,438.7 341.2,435.6 341.3,434.6 341.5,432.6 341.6,429.6 341.7,425.1 341.9,418.8 342.0,408.7 342.2,393.1 342.3,371.7 342.4,344.6 342.6,329.0 342.6,329.0 342.7,337.7 342.9,364.5 343.0,387.6 343.1,403.4 343.3,415.9 343.4,423.2 343.6,428.1 343.7,431.4 343.8,434.2 344.0,434.8 344.1,438.3 344.3,438.0 344.4,439.2 344.5,442.0 344.7,440.7 344.8,442.9 345.0,442.8 345.1,443.3 345.2,442.5 345.4,442.8 345.5,443.9 345.7,442.1 345.8,443.1 345.9,443.5 346.1,444.3 346.2,444.6 346.4,444.7 346.5,444.8 346.6,445.2 346.8,445.6 346.9,445.4 347.1,445.8 347.2,445.4 347.3,445.3 347.5,445.4 347.6,445.6 347.8,444.8 347.9,445.7 348.0,446.0 348.2,446.4 348.3,443.8 348.5,444.7 348.6,444.6 348.7,445.7 348.9,445.1 349.0,443.8 349.2,445.3 349.3,445.3 349.4,445.0 349.6,446.1 349.7,444.6 349.9,443.7 350.0,445.7 350.1,445.2 350.3,445.3 350.4,445.3 350.6,445.4 350.7,444.2 350.8,445.0 351.0,444.9 351.1,445.1 351.3,446.2 351.4,445.8 351.5,446.7 351.7,445.6 351.8,445.4 352.0,445.1 352.1,446.0 352.2,446.4 352.4,445.4 352.5,446.5 352.7,446.3 352.8,445.9 352.9,445.1 353.1,446.9 353.2,446.6 353.4,447.1 353.5,447.2 353.6,446.6 353.8,447.3 353.9,446.5 354.1,445.7 354.2,447.0 354.3,446.5 354.5,446.9 354.6,446.6 354.8,446.9 354.9,446.5 355.0,446.6 355.2,445.9 355.3,446.0 355.5,445.5 355.6,445.3 355.7,445.6 355.9,445.1 356.0,446.1 356.2,446.6 356.3,447.3 356.4,446.6 356.6,447.9 356.7,447.2 356.9,448.6 357.0,447.6 357.1,447.1 357.3,446.2 357.4,446.9 357.6,447.3 357.7,446.5 357.8,446.5 358.0,446.8 358.1,446.6 358.3,446.6 358.4,446.6 358.5,446.2 358.7,445.2 358.8,446.0 359.0,447.2 359.1,446.2 359.2,444.9 359.4,446.7 359.5,445.9 359.7,447.5 359.8,446.5 359.9,446.3 360.1,445.7 360.2,446.3 360.4,446.9 360.5,446.6 360.6,446.3 360.8,446.4 360.9,448.0 361.1,446.1 361.2,447.3 361.3,446.6 361.5,446.9 361.6,446.5 361.8,447.4 361.9,446.0 362.0,446.5 362.2,447.2 362.3,446.3 362.5,445.4 362.6,446.5 362.7,447.9 362.9,446.5 363.0,446.8 363.2,446.2 363.3,447.6 363.4,446.0 363.6,445.1 363.7,446.4 363.9,447.2 364.0,446.5 364.1,448.5 364.3,448.4 364.4,448.6 364.6,447.5 364.7,447.8 364.8,447.7 365.0,447.3 365.1,445.3 365.3,447.4 365.4,446.0 365.5,447.0 365.7,445.9 365.8,446.1 366.0,445.7 366.1,446.7 366.2,446.6 366.4,446.7 366.5,446.6 366.7,446.9 366.8,447.0 366.9,445.7 367.1,446.9 367.2,447.1 367.4,447.1 367.5,447.5 367.6,447.3 367.8,447.1 367.9,446.2 368.1,447.1 368.2,447.3 368.3,446.8 368.5,445.5 368.6,447.0 368.8,446.7 368.9,447.4 369.0,446.8 369.2,447.0 369.3,446.7 369.5,446.6 369.6,446.7 369.7,445.7 369.9,446.7 370.0,447.2 370.2,448.0 370.3,448.1 370.4,447.8 370.6,447.3 370.7,447.4 370.9,446.9 371.0,447.8 371.1,448.0 371.3,448.1 371.4,447.6 371.6,446.8 371.7,446.8 371.8,447.1 372.0,447.1 372.1,447.4 372.3,447.9 372.4,448.7 372.5,446.4 372.7,447.7 372.8,447.3 373.0,448.0 373.1,448.2 373.2,447.8 373.4,447.7 373.5,447.4 373.7,447.6 373.8,447.2 373.9,447.4 374.1,447.3 374.2,445.8 374.4,447.1 374.5,447.5 374.6,446.4 374.8,448.0 374.9,446.5 375.1,447.5 375.2,446.8 375.3,447.8 375.5,447.6 375.6,445.9 375.8,448.2 375.9,447.5 376.0,448.1 376.2,448.1 376.3,446.6 376.5,448.0 376.6,449.0 376.7,447.2 376.9,447.9 377.0,448.5 377.2,447.1 377.3,447.8 377.4,447.8 377.6,447.7 377.7,447.7 377.9,447.2 378.0,449.0 378.1,447.3 378.3,447.5 378.4,448.2 378.6,448.3 378.7,447.3 378.8,449.0 379.0,447.9 379.1,447.4 379.3,447.6 379.4,447.0 379.5,447.3 379.7,447.3 379.8,447.0 380.0,447.3 380.1,447.4 380.2,446.7 380.4,446.3 380.5,447.0 380.7,447.5 380.8,447.4 380.9,447.5 381.1,447.0 381.2,448.1 381.4,447.7 381.5,448.9 381.6,448.7 381.8,448.2 381.9,446.7 382.1,447.4 382.2,448.8 382.3,447.3 382.5,447.4 382.6,446.0 382.8,447.7 382.9,447.7 383.0,447.1 383.2,447.5 383.3,447.5 383.5,448.0 383.6,447.5 383.7,448.1 383.9,447.7 384.0,448.1 384.2,448.5 384.3,448.4 384.4,447.8 384.6,449.0 384.7,449.5 384.9,449.1 385.0,447.8 385.1,447.7 385.3,446.1 385.4,447.0 385.6,447.3 385.7,447.7 385.8,449.4 386.0,447.0 386.1,449.1 386.3,448.5 386.4,448.9 386.5,448.8 386.7,448.2 386.8,447.3 387.0,448.4 387.1,446.6 387.2,446.8 387.4,446.8 387.5,446.2 387.7,447.4 387.8,447.0 387.9,446.9 388.1,447.1 388.2,447.8 388.4,447.6 388.5,448.0 388.6,448.9 388.8,448.1 388.9,448.1 389.1,447.3 389.2,447.7 389.3,447.0 389.5,446.9 389.6,447.8 389.8,448.7 389.9,446.9 390.0,447.6 390.2,447.4 390.3,447.7 390.5,447.3 390.6,446.9 390.7,447.5 390.9,447.3 391.0,447.5 391.2,447.8 391.3,447.9 391.4,447.9 391.6,447.6 391.7,447.6 391.9,447.3 392.0,446.8 392.1,447.2 392.3,447.7 392.4,447.3 392.6,447.8 392.7,447.5 392.8,447.5 393.0,448.1 393.1,447.7 393.3,447.1 393.4,447.5 393.5,447.6 393.7,448.0 393.8,447.3 394.0,446.8 394.1,447.7 394.2,446.6 394.4,446.1 394.5,446.8 394.7,446.9 394.8,447.9 394.9,447.9 395.1,448.4 395.2,447.2 395.4,447.7 395.5,447.7 395.6,447.7 395.8,448.0 395.9,447.2 396.1,447.0 396.2,447.2 396.3,446.8 396.5,446.3 396.6,446.8 396.8,446.9 396.9,446.9 397.0,447.5 397.2,448.6 397.3,448.2 397.5,447.1 397.6,447.2 397.7,448.0 397.9,447.2 398.0,447.1 398.2,446.7 398.3,446.5 398.4,446.0 398.6,447.3 398.7,447.8 398.9,447.4 399.0,447.4 399.1,446.2 399.3,446.9 399.4,446.3 399.6,446.3 399.7,445.6 399.8,446.3 400.0,447.2 400.1,447.5 400.3,447.9 400.4,448.7 400.5,447.4 400.7,446.1 400.8,445.1 401.0,444.0 401.0,443.4 401.1,442.8 401.2,444.1 401.4,446.2 401.5,447.2 401.7,447.3 401.8,446.4 401.9,447.1 402.1,447.3 402.2,446.6 402.4,448.5 402.5,447.4 402.6,448.6 402.8,449.6 402.9,448.9 403.1,447.5 403.2,448.5 403.3,449.6 403.5,448.9 403.6,449.4 403.8,448.5 403.9,447.9 404.0,448.5 404.2,448.8 404.3,448.7 404.5,447.9 404.6,447.9 404.7,447.9 404.9,448.2 405.0,448.0 405.2,448.0 405.3,447.6 405.4,447.2 405.6,446.5 405.7,446.4 405.9,447.8 406.0,447.8 406.1,447.9 406.3,446.8 406.4,446.8 406.6,447.2 406.7,446.6 406.8,448.3 407.0,447.7 407.1,447.0 407.3,447.7 407.4,447.8 407.5,448.5 407.7,448.1 407.8,448.1 408.0,449.4 408.1,447.5 408.2,447.3 408.4,448.4 408.5,448.3 408.7,448.0 408.8,447.8 408.9,447.0 409.1,446.6 409.2,445.9 409.4,446.1 409.5,446.9 409.6,446.5 409.8,447.2 409.9,447.2 410.1,447.0 410.2,447.2 410.3,447.9 410.5,447.0 410.6,447.1 410.8,447.6 410.9,447.3 411.0,447.1 411.2,447.8 411.3,447.0 411.5,447.0 411.6,446.3 411.7,447.7 411.9,447.8 412.0,447.3 412.2,448.0 412.3,447.7 412.4,447.8 412.6,448.0 412.7,448.9 412.9,447.9 413.0,447.1 413.1,447.9 413.3,447.3 413.4,447.3 413.6,446.6 413.7,447.2 413.8,446.3 414.0,448.0 414.1,446.5 414.3,446.7 414.4,446.8 414.5,447.6 414.7,447.9 414.8,447.1 415.0,447.7 415.1,447.4 415.2,448.0 415.4,447.0 415.5,447.2 415.7,447.4 415.8,446.5 415.9,446.5 416.1,447.0 416.2,446.5 416.4,447.1 416.5,446.5 416.6,446.3 416.8,447.1 416.9,446.8 417.1,445.5 417.2,445.7 417.3,444.9 417.5,444.2 417.6,444.6 417.8,443.3 417.9,442.9 418.0,440.3 418.2,439.2 418.3,436.2 418.5,433.5 418.6,428.3 418.7,421.4 418.9,417.1 418.9,416.9 419.0,419.3 419.2,425.3 419.3,430.2 419.4,433.4 419.6,436.1 419.7,436.1 419.9,436.4 420.0,435.0 420.1,433.8 420.3,430.8 420.4,429.3 420.6,432.0 420.7,436.6 420.8,438.8 421.0,442.6 421.1,444.3 421.3,445.5 421.4,446.7 421.5,446.4 421.7,446.5 421.8,446.8 422.0,445.3 422.1,446.4 422.2,446.0 422.4,446.7 422.5,445.7 422.7,446.5 422.8,446.0 422.9,446.1 423.1,447.1 423.2,446.9 423.4,446.4 423.5,447.8 423.6,448.3 423.8,448.2 423.9,447.9 424.1,448.3 424.2,447.7 424.3,447.7 424.5,448.3 424.6,447.4 424.8,448.8 424.9,448.5 425.0,448.3 425.2,448.9 425.3,449.2 425.5,449.4 425.6,448.3 425.7,448.9 425.9,447.6 426.0,448.2 426.2,448.0 426.3,448.5 426.4,448.4 426.6,449.0 426.7,448.4 426.9,446.9 427.0,447.9 427.1,447.1 427.3,447.5 427.4,446.5 427.6,447.7 427.7,448.1 427.8,448.5 428.0,448.4 428.1,448.2 428.3,448.4 428.4,448.0 428.5,447.5 428.7,447.0 428.8,446.5 429.0,447.9 429.1,448.1 429.2,448.8 429.4,448.0 429.5,448.9 429.7,448.3 429.8,449.7 429.9,450.0 430.1,449.0 430.2,447.8 430.4,449.4 430.5,448.8 430.6,447.7 430.8,448.8 430.9,448.1 431.1,447.4 431.2,447.7 431.3,448.0 431.5,448.1 431.6,448.5 431.8,448.4 431.9,448.4 432.0,448.7 432.2,447.7 432.3,448.6 432.5,447.9 432.6,447.5 432.7,448.5 432.9,448.9 433.0,447.8 433.2,448.1 433.3,448.9 433.4,448.7 433.6,448.7 433.7,448.7 433.9,448.3 434.0,447.3 434.1,449.2 434.3,449.7 434.4,449.0 434.6,449.5 434.7,449.8 434.8,449.6 435.0,448.9 435.1,448.8 435.3,447.3 435.4,446.5 435.5,446.7 435.7,447.1 435.8,447.0 436.0,446.2 436.1,447.5 436.2,447.6 436.4,448.0 436.5,447.9 436.7,449.0 436.8,446.9 436.9,448.9 437.1,449.1 437.2,448.7 437.4,448.4 437.5,448.6 437.6,449.9 437.8,448.5 437.9,448.0 438.1,450.0 438.2,447.9 438.3,448.8 438.5,448.7 438.6,448.7 438.8,448.3 438.9,448.8 439.0,448.6 439.2,448.9 439.3,449.5 439.5,448.9 439.6,448.5 439.7,448.7 439.9,449.1 440.0,448.4 440.2,448.4 440.3,448.9 440.4,448.6 440.6,449.5 440.7,448.1 440.9,448.2 441.0,448.7 441.1,448.2 441.3,448.4 441.4,448.6 441.6,448.7 441.7,449.1 441.8,448.7 442.0,448.7 442.1,449.3 442.3,449.3 442.4,448.8 442.5,450.3 442.7,448.8 442.8,448.9 443.0,449.1 443.1,448.7 443.2,448.7 443.4,448.0 443.5,449.2 443.7,448.6 443.8,447.5 443.9,449.6 444.1,448.3 444.2,449.1 444.4,448.5 444.5,449.3 444.6,450.0 444.8,448.6 444.9,448.9 445.1,448.0 445.2,448.3 445.3,448.7 445.5,448.2 445.6,449.2 445.8,449.3 445.9,448.7 446.0,450.3 446.2,449.7 446.3,450.2 446.5,448.7 446.6,448.4 446.7,448.6 446.9,449.1 447.0,448.3 447.2,447.8 447.3,448.6 447.4,447.5 447.6,447.7 447.7,448.0 447.9,448.9 448.0,447.9 448.1,447.9 448.3,447.5 448.4,448.6 448.6,449.0 448.7,448.9 448.8,448.7 449.0,448.9 449.1,449.7 449.3,449.1 449.4,448.1 449.5,448.4 449.7,448.5 449.8,447.7 450.0,448.2 450.1,448.3 450.2,448.1 450.4,447.6 450.5,448.4 450.7,448.3 450.8,447.8 450.9,449.7 451.1,449.8 451.2,448.7 451.4,447.8 451.5,448.5 451.6,449.0 451.8,449.8 451.9,449.3 452.1,450.2 452.2,449.8 452.3,449.4 452.5,449.5 452.6,450.6 452.8,448.9 452.9,449.1 453.0,448.7 453.2,449.9 453.3,449.3 453.5,448.7 453.6,449.5 453.7,448.9 453.9,449.0 454.0,448.9 454.2,449.5 454.3,448.5 454.4,448.2 454.6,448.5 454.7,448.8 454.9,449.1 455.0,449.5 455.1,447.9 455.3,448.6 455.4,448.4 455.6,449.1 455.7,448.7 455.8,447.9 456.0,447.6 456.1,448.3 456.3,447.7 456.4,448.7 456.5,449.2 456.7,448.1 456.8,449.2 457.0,448.7 457.1,448.4 457.2,449.2 457.4,448.7 457.5,449.1 457.7,448.5 457.8,449.5 457.9,449.4 458.1,449.0 458.2,449.7 458.4,448.9 458.5,449.3 458.6,449.0 458.8,448.5 458.9,448.3 459.1,449.5 459.2,448.7 459.3,449.3 459.5,449.8 459.6,449.7 459.8,448.5 459.9,450.2 460.0,449.1 460.2,448.3 460.3,448.2 460.5,448.7 460.6,449.1 460.7,448.4 460.9,448.2 461.0,449.0 461.2,447.6 461.3,448.1 461.4,449.1 461.6,449.7 461.7,449.7 461.9,450.2 462.0,449.8 462.1,449.3 462.3,449.1 462.4,449.3 462.6,448.3 462.7,448.3 462.8,448.2 463.0,449.1 463.1,448.7 463.3,449.7 463.4,449.7 463.5,448.7 463.7,449.7 463.8,449.1 464.0,449.3 464.1,448.7 464.2,448.7 464.4,448.7 464.5,449.3 464.7,448.9 464.8,448.2 464.9,448.6 465.1,449.0 465.2,449.1 465.4,449.3 465.5,448.7 465.6,449.1 465.8,449.0 465.9,447.7 466.1,448.8 466.2,448.5 466.3,448.6 466.5,448.8 466.6,448.7 466.8,449.9 466.9,449.4 467.0,449.6 467.2,449.1 467.3,448.8 467.5,449.3 467.6,449.2 467.7,449.5 467.9,449.1 468.0,449.2 468.2,448.7 468.3,450.0 468.4,448.6 468.6,449.0 468.7,448.8 468.9,449.4 469.0,449.9 469.1,448.7 469.3,449.1 469.4,448.9 469.6,448.6 469.7,449.9 469.8,448.7 470.0,448.7 470.1,448.2 470.3,448.6 470.4,449.1 470.5,450.0 470.7,449.2 470.8,447.7 471.0,448.3 471.1,448.2 471.2,447.9 471.4,448.6 471.5,449.4 471.7,449.1 471.8,448.9 471.9,448.8 472.1,448.3 472.2,449.8 472.4,448.1 472.5,447.8 472.6,447.9 472.8,449.4 472.9,448.1 473.1,446.7 473.2,449.3 473.3,448.9 473.5,448.9 473.6,449.1 473.8,449.6 473.9,448.7 474.0,448.8 474.2,449.1 474.3,449.2 474.5,449.6 474.6,448.0 474.7,448.8 474.9,449.2 475.0,449.1 475.2,447.6 475.3,449.3 475.4,448.6 475.6,449.4 475.7,449.3 475.9,449.4 476.0,449.3 476.1,450.2 476.3,449.5 476.4,449.4 476.6,449.5 476.7,448.9 476.8,448.3 477.0,448.6 477.1,448.7 477.3,448.3 477.4,449.2 477.5,448.8 477.7,449.3 477.8,449.8 478.0,449.6 478.1,449.4 478.2,449.2 478.4,449.8 478.5,448.9 478.7,450.3 478.8,449.1 478.9,449.3 479.1,449.4 479.2,449.6 479.4,449.4 479.5,448.9 479.6,449.8 479.8,448.6 479.9,449.5 480.1,449.5 480.2,449.5 480.3,448.9 480.5,449.3 480.6,449.9 480.8,447.6 480.9,448.6 481.0,448.6 481.2,448.5 481.3,449.3 481.5,449.1 481.6,448.9 481.7,449.8 481.9,448.9 482.0,449.5 482.2,449.4 482.3,448.8 482.4,448.5 482.6,448.7 482.7,448.6 482.9,448.9 483.0,448.9 483.1,448.1 483.3,449.0 483.4,449.5 483.6,449.4 483.7,449.5 483.8,448.9 484.0,449.1 484.1,448.6 484.3,449.4 484.4,450.0 484.5,448.8 484.7,448.5 484.8,449.8 485.0,449.1 485.1,449.0 485.2,448.8 485.4,448.6 485.5,448.0 485.7,448.8 485.8,447.6 485.9,447.0 486.1,446.3 486.2,445.1 486.4,442.5 486.5,441.1 486.6,436.8 486.8,433.6 486.8,433.7 486.9,436.1 487.1,439.3 487.2,442.0 487.3,442.6 487.5,443.4 487.6,443.1 487.8,441.5 487.9,441.1 488.0,440.2 488.2,442.1 488.3,443.4 488.5,445.8 488.6,446.7 488.7,447.7 488.9,448.9 489.0,449.0 489.2,448.8 489.3,448.2 489.4,449.8 489.6,448.4 489.7,448.8 489.9,450.2 490.0,449.5 490.1,449.2 490.3,449.0 490.4,449.6 490.6,448.8 490.7,449.2 490.8,449.0 491.0,449.5 491.1,450.0 491.3,449.5 491.4,449.5 491.5,449.8 491.7,449.6 491.8,449.4 492.0,449.0 492.1,449.4 492.2,449.1 492.4,449.5 492.5,448.3 492.7,449.4 492.8,448.3 492.9,448.6 493.1,449.6 493.2,448.8 493.4,449.5 493.5,449.8 493.6,449.7 493.8,450.4 493.9,451.4 494.1,451.7 494.2,450.0 494.3,449.5 494.5,450.6 494.6,450.2 494.8,449.4 494.9,449.0 495.0,449.4 495.2,449.3 495.3,449.5 495.5,449.0 495.6,449.8 495.7,448.4 495.9,449.3 496.0,448.0 496.2,448.4 496.3,448.9 496.4,448.4 496.6,448.9 496.7,448.3 496.9,449.0 497.0,448.6 497.1,448.4 497.3,449.0 497.4,449.1 497.6,449.1 497.7,450.1 497.8,448.9 498.0,449.4 498.1,449.4 498.3,449.6 498.4,449.5 498.5,449.5 498.7,448.5 498.8,449.3 499.0,448.4 499.1,449.1 499.2,449.4 499.4,449.3 499.5,449.2 499.7,448.6 499.8,449.5 499.9,448.9 500.1,448.9 500.2,448.8 500.4,449.0 500.5,449.8 500.6,451.0 500.8,450.9 500.9,449.9 501.1,450.1 501.2,449.5 501.3,449.7 501.5,449.4 501.6,449.2 501.8,448.6 501.9,448.7 502.0,449.8 502.2,449.6 502.3,448.8 502.5,449.7 502.6,450.6 502.7,448.8 502.9,449.2 503.0,449.0 503.2,449.3 503.3,447.8 503.4,448.8 503.6,449.2 503.7,447.9 503.9,448.6 504.0,449.4 504.1,449.7 504.3,448.9 504.4,449.3 504.6,449.5 504.7,448.9 504.8,448.7 505.0,449.2 505.1,450.1 505.3,450.6 505.4,451.3 505.5,450.7 505.7,450.2 505.8,450.7 506.0,451.0 506.1,449.9 506.2,449.8 506.4,449.8 506.5,449.7 506.7,449.9 506.8,449.6 506.9,450.2 507.1,449.5 507.2,449.5 507.4,450.1 507.5,450.0 507.6,450.2 507.8,449.3 507.9,449.1 508.1,448.3 508.2,448.9 508.3,449.2 508.5,449.3 508.6,449.5 508.8,450.0 508.9,449.4 509.0,449.7 509.2,448.8 509.3,450.6 509.5,449.6 509.6,449.9 509.7,449.2 509.9,449.4 510.0,449.2 510.2,448.9 510.3,449.1 510.4,450.4 510.6,450.0 510.7,450.2 510.9,449.7 511.0,450.1 511.1,449.8 511.3,449.6 511.4,449.4 511.6,450.1 511.7,450.1 511.8,449.4 512.0,449.9 512.1,449.5 512.3,450.3 512.4,449.9 512.5,448.8 512.7,449.4 512.8,449.5 513.0,448.6 513.1,450.2 513.2,449.6 513.4,449.1 513.5,449.7 513.7,449.4 513.8,449.5 513.9,450.3 514.1,449.2 514.2,450.2 514.4,450.4 514.5,449.3 514.6,451.0 514.8,449.8 514.9,449.2 515.1,450.5 515.2,449.7 515.3,449.1 515.5,448.4 515.6,448.9 515.8,448.2 515.9,447.9 516.0,447.8 516.2,449.2 516.3,448.9 516.5,448.9 516.6,449.6 516.7,449.0 516.9,449.8 517.0,449.4 517.2,448.6 517.3,449.2 517.4,448.8 517.6,449.2 517.7,449.8 517.9,450.2 518.0,449.7 518.1,450.1 518.3,449.6 518.4,449.9 518.6,449.1 518.7,449.2 518.8,449.5 519.0,449.3 519.1,450.5 519.3,449.2 519.4,449.7 519.5,449.9 519.7,449.9 519.8,450.4 520.0,450.0 520.1,450.4 520.2,449.8 520.4,450.0 520.5,449.0 520.7,450.6 520.8,450.4 520.9,449.5 521.1,449.8 521.2,449.2 521.4,449.9 521.5,450.1 521.6,449.3 521.8,449.7 521.9,448.8 522.1,448.8 522.2,449.1 522.3,448.6 522.5,449.2 522.6,448.1 522.8,448.5 522.9,449.0 523.0,448.7 523.2,448.0 523.3,448.3 523.5,449.2 523.6,448.3 523.7,449.3 523.9,448.6 524.0,449.5 524.2,449.1 524.3,447.8 524.4,449.3 524.6,447.9 524.7,449.2 524.9,448.6 525.0,449.0 525.1,448.4 525.3,448.7 525.4,448.6 525.6,448.0 525.7,448.6 525.8,449.2 526.0,450.3 526.1,449.9 526.3,449.6 526.4,449.8 526.5,449.9 526.7,449.6 526.8,450.0 527.0,449.6 527.1,449.5 527.2,449.1 527.4,450.6 527.5,448.4 527.7,449.2 527.8,449.2 527.9,449.1 528.1,450.1 528.2,450.6 528.4,450.2 528.5,450.3 528.6,450.3 528.8,450.2 528.9,450.2 529.1,450.7 529.2,449.6 529.3,450.2 529.5,450.5 529.6,450.2 529.8,449.9 529.9,450.5 530.0,450.3 530.2,450.6 530.3,450.3 530.5,449.2 530.6,449.8 530.7,449.0 530.9,449.0 531.0,449.5 531.2,450.2 531.3,449.7 531.4,449.2 531.6,449.1 531.7,449.9 531.9,449.1 532.0,449.4 532.1,449.5 532.3,450.3 532.4,449.9 532.6,450.0 532.7,449.8 532.8,449.3 533.0,448.8 533.1,449.9 533.3,450.6 533.4,449.3 533.5,449.9 533.7,450.9 533.8,449.3 534.0,450.1 534.1,449.7 534.2,449.8 534.4,449.5 534.5,449.9 534.7,449.3 534.8,449.4 534.9,450.1 535.1,450.2 535.2,449.8 535.4,450.8 535.5,450.1 535.6,450.7 535.8,448.8 535.9,450.2 536.1,450.3 536.2,449.6 536.3,449.6 536.5,449.6 536.6,450.6 536.8,451.2 536.9,451.6 537.0,450.7 537.2,449.9 537.3,450.2 537.5,450.2 537.6,448.8 537.7,449.8 537.9,450.6 538.0,449.5 538.2,449.6 538.3,450.0 538.4,449.6 538.6,448.6 538.7,449.7 538.9,449.9 539.0,450.0 539.1,449.5 539.3,449.3 539.4,449.7 539.6,450.5 539.7,449.0 539.8,449.0 540.0,449.1 540.1,449.2 540.3,449.0 540.4,448.7 540.5,448.7 540.7,448.4 540.8,449.1 541.0,450.2 541.1,449.5 541.2,449.9 541.4,450.2 541.5,449.4 541.7,449.9 541.8,450.0 541.9,449.9 542.1,449.5 542.2,449.7 542.4,449.6 542.5,450.0 542.6,450.1 542.8,449.0 542.9,448.8 543.1,449.3 543.2,448.6 543.3,448.6 543.5,448.1 543.6,448.1 543.8,448.5 543.9,449.4 544.0,449.6 544.2,449.4 544.3,450.1 544.5,448.4 544.6,449.1 544.7,449.2 544.9,448.4 545.0,447.5 545.2,447.9 545.3,448.2 545.4,449.7 545.6,449.9 545.7,449.2 545.9,450.7 546.0,449.8 546.1,449.4 546.3,450.1 546.4,449.9 546.6,448.8 546.7,449.4 546.8,449.2 547.0,448.6 547.1,449.2 547.3,448.5 547.4,448.9 547.5,448.6 547.7,448.4 547.8,448.6 548.0,448.2 548.1,447.6 548.2,447.3 548.4,446.1 548.5,445.3 548.7,444.7 548.8,443.5 548.9,441.6 549.1,438.7 549.2,434.8 549.4,430.0 549.5,422.9 549.6,418.0 549.7,417.2 549.8,418.8 549.9,423.6 550.1,430.6 550.2,435.5 550.3,438.3 550.5,440.7 550.6,441.3 550.8,442.0 550.9,442.2 551.0,441.2 551.2,437.3 551.3,433.7 551.5,431.5 551.6,432.9 551.7,436.1 551.9,440.0 552.0,442.4 552.2,444.9 552.3,446.1 552.4,446.7 552.6,446.4 552.7,447.5 552.9,447.4 553.0,448.2 553.1,448.3 553.3,448.9 553.4,448.5 553.6,449.8 553.7,448.9 553.8,450.0 554.0,450.1 554.1,449.8 554.3,449.9 554.4,449.7 554.5,449.1 554.7,449.1 554.8,448.6 555.0,450.6 555.1,449.6 555.2,450.0 555.4,449.5 555.5,449.2 555.7,449.2 555.8,449.8 555.9,450.3 556.1,450.0 556.2,450.2 556.4,449.8 556.5,450.2 556.6,450.1 556.8,450.8 556.9,450.0 557.1,450.3 557.2,449.8 557.3,450.1 557.5,449.7 557.6,449.0 557.8,449.5 557.9,449.1 558.0,449.1 558.2,449.7 558.3,449.8 558.5,449.1 558.6,450.3 558.7,449.1 558.9,448.6 559.0,449.5 559.2,449.8 559.3,450.2 559.4,450.1 559.6,449.7 559.7,449.9 559.9,449.6 560.0,450.0 560.1,448.5 560.3,449.5 560.4,449.8 560.6,450.1 560.7,448.7 560.8,450.7 561.0,449.5 561.1,450.5 561.3,450.2 561.4,449.7 561.5,450.5 561.7,449.4 561.8,450.1 562.0,450.0 562.1,451.1 562.2,450.3 562.4,450.2 562.5,449.9 562.7,449.5 562.8,449.4 562.9,448.4 563.1,448.7 563.2,449.3 563.4,449.5 563.5,450.2 563.6,449.4 563.8,450.2 563.9,450.5 564.1,450.7 564.2,451.3 564.3,450.3 564.5,451.3 564.6,450.0 564.8,450.0 564.9,449.9 565.0,449.8 565.2,450.0 565.3,449.5 565.5,449.4 565.6,449.6 565.7,449.5 565.9,449.9 566.0,449.9 566.2,449.8 566.3,450.6 566.4,449.4 566.6,450.0 566.7,449.2 566.9,449.3 567.0,449.2 567.1,450.1 567.3,451.3 567.4,450.1 567.6,450.5 567.7,449.0 567.8,450.4 568.0,449.1 568.1,450.6 568.3,450.7 568.4,450.3 568.5,450.5 568.7,449.5 568.8,450.0 569.0,449.6 569.1,449.5 569.2,450.4 569.4,449.8 569.5,450.5 569.7,449.6 569.8,450.5 569.9,449.8 570.1,451.0 570.2,450.3 570.4,451.7 570.5,451.5 570.6,450.6 570.8,450.9 570.9,450.6 571.1,449.9 571.2,450.0 571.3,451.3 571.5,450.7 571.6,449.5 571.8,449.1 571.9,449.2 572.0,450.0 572.2,450.3 572.3,449.8 572.5,449.8 572.6,449.5 572.7,449.3 572.9,449.9 573.0,449.0 573.2,450.1 573.3,449.4 573.4,449.8 573.6,448.8 573.7,449.4 573.9,449.8 574.0,449.5 574.1,450.6 574.3,449.9 574.4,450.1 574.6,450.2 574.7,449.4 574.8,449.4 575.0,448.2 575.1,448.9 575.3,449.2 575.4,449.7 575.5,449.5 575.7,450.5 575.8,449.8 576.0,449.9 576.1,450.3 576.2,449.6 576.4,450.2 576.5,449.9 576.7,450.3 576.8,450.2 576.9,450.1 577.1,449.8 577.2,450.3 577.4,450.7 577.5,450.5 577.6,450.2 577.8,450.4 577.9,450.1 578.1,450.4 578.2,450.2 578.3,451.1 578.5,449.9 578.6,449.9 578.8,449.2 578.9,449.3 579.0,449.4 579.2,449.9 579.3,450.0 579.5,450.1 579.6,449.9 579.7,450.2 579.9,451.2 580.0,450.7 580.2,450.7 580.3,450.8 580.4,450.8 580.6,450.4 580.7,450.8 580.9,451.4 581.0,450.7 581.1,450.5 581.3,451.0 581.4,450.6 581.6,450.4 581.7,450.3 581.8,449.9 582.0,449.5 582.1,449.8 582.3,449.8 582.4,449.1 582.5,450.7 582.7,449.8 582.8,449.4 583.0,449.5 583.1,449.3 583.2,448.9 583.4,449.9 583.5,449.8 583.7,449.7 583.8,450.2 583.9,451.0 584.1,450.6 584.2,450.4 584.4,449.2 584.5,450.7 584.6,449.8 584.8,450.2 584.9,450.1 585.1,450.1 585.2,449.2 585.3,449.8 585.5,449.9 585.6,449.2 585.8,449.4 585.9,450.3 586.0,450.1 586.2,449.5 586.3,450.6 586.5,449.6 586.6,450.1 586.7,449.8 586.9,449.4 587.0,450.0 587.2,449.9 587.3,449.6 587.4,449.7 587.6,449.7 587.7,449.5 587.9,449.5 588.0,450.3 588.1,450.7 588.3,449.8 588.4,449.8 588.6,449.7 588.7,449.5 588.8,449.1 589.0,450.9 589.1,451.1 589.3,449.8 589.4,450.4 589.5,449.9 589.7,450.1 589.8,449.9 590.0,449.8 590.1,450.1 590.2,449.8 590.4,450.2 590.5,449.3 590.7,449.9 590.8,450.0 590.9,449.8 591.1,449.8 591.2,449.7 591.4,450.5 591.5,450.0 591.6,450.6 591.8,450.3 591.9,450.5 592.1,449.7 592.2,450.1 592.3,450.6 592.5,449.9 592.6,449.7 592.8,451.1 592.9,448.7 593.0,450.3 593.2,450.0 593.3,449.4 593.5,450.3 593.6,450.2 593.7,450.4 593.9,449.3 594.0,450.1 594.2,450.0 594.3,450.3 594.4,450.3 594.6,450.2 594.7,449.3 594.9,450.4 595.0,449.8 595.1,450.5 595.3,449.3 595.4,449.8 595.6,449.4 595.7,448.7 595.8,450.2 596.0,449.1 596.1,450.4 596.3,450.1 596.4,450.0 596.5,450.2 596.7,449.4 596.8,449.8 597.0,449.4 597.1,450.9 597.2,449.5 597.4,450.0 597.5,449.6 597.7,450.0 597.8,449.8 597.9,450.0 598.1,449.6 598.2,448.7 598.4,448.7 598.5,449.3 598.6,449.8 598.8,449.6 598.9,449.7 599.1,450.5 599.2,449.9 599.3,451.3 599.5,450.3 599.6,449.6 599.8,450.6 599.9,450.4 600.0,450.0 600.2,450.5 600.3,451.2 600.5,450.2 600.6,451.0 600.7,450.9 600.9,450.8 601.0,450.6 601.2,450.6 601.3,449.4 601.4,450.1 601.6,451.8 601.7,450.9 601.9,450.9 602.0,451.5 602.1,450.9 602.3,450.9 602.4,450.7 602.6,450.7 602.7,451.1 602.8,450.1 603.0,449.7 603.1,449.9 603.3,450.8 603.4,449.3 603.5,450.2 603.7,449.7 603.8,450.4 604.0,451.2 604.1,449.3 604.2,450.6 604.4,450.2 604.5,450.4 604.7,450.0 604.8,449.3 604.9,449.7 605.1,449.6 605.2,450.3 605.4,449.8 605.5,450.4 605.6,450.2 605.8,448.6 605.9,449.2 606.1,449.5 606.2,449.5 606.3,448.7 606.5,449.3 606.6,449.7 606.8,449.1 606.9,449.2 607.0,449.6 607.2,449.5 607.3,448.9 607.5,450.2 607.6,448.8 607.7,449.2 607.9,448.9 608.0,449.1 608.2,449.3 608.3,448.7 608.4,448.7 608.6,447.6 608.7,447.8 608.9,447.1 609.0,447.7 609.1,446.8 609.3,445.5 609.4,444.4 609.6,441.8 609.7,438.8 609.8,433.4 610.0,431.3 610.0,431.1 610.1,433.0 610.3,436.2 610.4,439.9 610.5,442.3 610.7,444.9 610.8,444.8 611.0,445.5 611.1,446.5 611.2,444.2 611.4,442.9 611.5,440.4 611.7,438.0 611.8,438.2 611.9,441.1 612.1,443.2 612.2,446.3 612.4,445.7 612.5,448.2 612.6,448.0 612.8,448.6 612.9,448.6 613.1,449.4 613.2,450.3 613.3,449.5 613.5,449.9 613.6,449.6 613.8,449.5 613.9,449.7 614.0,449.5 614.2,450.6 614.3,449.8 614.5,450.1 614.6,449.9 614.7,449.5 614.9,449.6 615.0,450.1 615.2,450.8 615.3,450.0 615.4,450.0 615.6,450.0 615.7,450.5 615.9,449.8 616.0,449.9 616.1,451.9 616.3,450.9 616.4,451.2 616.6,450.8 616.7,450.6 616.8,449.7 617.0,449.7 617.1,450.2 617.3,450.1 617.4,449.1 617.5,449.7 617.7,449.9 617.8,449.2 618.0,449.4 618.1,448.9 618.2,450.1 618.4,450.7 618.5,450.1 618.7,450.2 618.8,450.5 618.9,450.3 619.1,450.5 619.2,449.9 619.4,450.8 619.5,451.2 619.6,449.2 619.8,449.2 619.9,450.6 620.1,450.4 620.2,450.2 620.3,450.1 620.5,449.3 620.6,450.6 620.8,450.0 620.9,451.0 621.0,449.9 621.2,449.5 621.3,449.4 621.5,448.9 621.6,449.9 621.7,449.7 621.9,449.5 622.0,450.0 622.2,450.5 622.3,450.4 622.4,450.2 622.6,450.4 622.7,450.0 622.9,450.6 623.0,450.4 623.1,450.1 623.3,449.9 623.4,449.7 623.6,449.4 623.7,448.6 623.8,448.8 624.0,448.7 624.1,448.4 624.3,448.7 624.4,449.1 624.5,449.7 624.7,449.4 624.8,449.8 625.0,449.6 625.1,450.0 625.2,450.6 625.4,450.6 625.5,450.2 625.7,450.4 625.8,450.1 625.9,450.2 626.1,449.8 626.2,450.0 626.4,451.1 626.5,450.6 626.6,449.7 626.8,450.2 626.9,449.8 627.1,450.4 627.2,450.4 627.3,449.9 627.5,449.9 627.6,449.9 627.8,450.8 627.9,449.7 628.0,450.3 628.2,449.4 628.3,450.0 628.5,450.1 628.6,450.2 628.7,450.5 628.9,450.6 629.0,450.6 629.2,450.4 629.3,450.5 629.4,450.5 629.6,452.1 629.7,451.2 629.9,451.2 630.0,450.9 630.1,450.9 630.3,449.3 630.4,450.5 630.6,449.8 630.7,450.1 630.8,450.6 631.0,450.2 631.1,450.2 631.3,450.4 631.4,450.5 631.5,449.7 631.7,450.4 631.8,449.8 632.0,449.9 632.1,450.3 632.2,450.0 632.4,449.3 632.5,451.1 632.7,449.6 632.8,449.7 632.9,449.9 633.1,449.9 633.2,451.5 633.4,450.7 633.5,451.4 633.6,450.4 633.8,451.1 633.9,450.2 634.1,450.5 634.2,449.3 634.3,449.6 634.5,449.6 634.6,449.5 634.8,451.0 634.9,450.2 635.0,450.7 635.2,450.7 635.3,450.1 635.5,450.9 635.6,449.8 635.7,450.0 635.9,450.0 636.0,449.7 636.2,450.9 636.3,450.2 636.4,451.1 636.6,451.3 636.7,450.4 636.9,451.1 637.0,450.5 637.1,450.2 637.3,450.3 637.4,450.4 637.6,449.9 637.7,450.2 637.8,448.8 638.0,449.4 638.1,449.9 638.3,449.8 638.4,448.8 638.5,449.5 638.7,449.2 638.8,449.0 639.0,450.1 639.1,449.2 639.2,450.6 639.4,448.5 639.5,449.1 639.7,449.4 639.8,450.5 639.9,449.9 640.1,450.7 640.2,449.9 640.4,449.9 640.5,449.4 640.6,449.0 640.8,449.1 640.9,449.8 641.1,449.3 641.2,449.2 641.3,450.7 641.5,449.5 641.6,450.1 641.8,450.3 641.9,449.8 642.0,449.9 642.2,450.4 642.3,450.5 642.5,450.1 642.6,450.3 642.7,450.5 642.9,450.2 643.0,450.2 643.2,450.2 643.3,450.0 643.4,450.2 643.6,449.2 643.7,450.2 643.9,448.7 644.0,449.3 644.1,449.9 644.3,449.8 644.4,449.7 644.6,449.5 644.7,448.4 644.8,450.1 645.0,449.9 645.1,449.5 645.3,450.0 645.4,449.8 645.5,450.9 645.7,450.1 645.8,450.7 646.0,451.5 646.1,450.2 646.2,450.6 646.4,450.8 646.5,449.5 646.7,450.8 646.8,449.5 646.9,449.0 647.1,449.3 647.2,448.5 647.4,448.5 647.5,449.3 647.6,449.1 647.8,448.5 647.9,450.1 648.1,449.4 648.2,449.7 648.3,449.6 648.5,449.4" fill="none" stroke="#111" stroke-width="1.25" stroke-linejoin="round"/>
<path d="M65.1,398.2 65.2,396.9 65.4,391.8 65.5,394.7 65.7,395.5 65.8,393.6 65.9,395.1 66.1,393.1 66.2,397.1 66.4,394.1 66.5,394.1 66.6,396.3 66.8,394.4 66.9,393.5 67.1,394.5 67.2,393.3 67.3,392.4 67.5,392.4 67.6,394.8 67.8,391.8 67.9,395.0 68.0,394.9 68.2,393.3 68.3,391.7 68.5,393.8 68.6,394.5 68.7,395.0 68.9,394.2 69.0,394.5 69.2,392.4 69.3,394.9 69.4,393.4 69.6,388.9 69.7,393.4 69.9,389.4 70.0,391.8 70.1,391.2 70.3,389.1 70.4,389.3 70.6,390.6 70.7,391.2 70.8,391.0 71.0,390.3 71.1,388.2 71.3,389.3 71.4,387.0 71.5,386.7 71.7,388.9 71.8,389.2 72.0,389.1 72.1,389.5 72.2,390.0 72.4,392.1 72.5,391.2 72.7,392.5 72.8,391.2 72.9,388.2 73.1,392.9 73.2,391.0 73.4,391.9 73.5,390.7 73.6,390.3 73.8,394.0 73.9,391.7 74.1,387.6 74.2,389.9 74.3,389.9 74.5,390.8 74.6,388.7 74.8,388.0 74.9,389.7 75.0,386.7 75.2,389.7 75.3,391.4 75.5,389.6 75.6,389.3 75.7,389.8 75.9,385.3 76.0,387.4 76.2,385.1 76.3,386.0 76.4,385.3 76.6,389.3 76.7,389.8 76.9,387.5 77.0,388.1 77.1,390.9 77.3,387.1 77.4,386.8 77.6,387.1 77.7,387.5 77.8,387.0 78.0,386.6 78.1,388.2 78.3,389.5 78.4,388.3 78.5,387.2 78.7,390.8 78.8,388.0 79.0,388.6 79.1,385.1 79.2,382.7 79.4,382.6 79.5,382.8 79.7,387.2 79.8,385.2 79.9,385.0 80.1,384.2 80.2,384.0 80.4,383.7 80.5,386.7 80.6,385.9 80.8,383.4 80.9,383.4 81.1,382.7 81.2,383.1 81.3,383.5 81.5,383.1 81.6,382.6 81.8,381.6 81.9,381.5 82.0,381.6 82.2,380.3 82.3,382.6 82.5,383.0 82.6,381.5 82.7,380.9 82.9,379.4 83.0,382.5 83.2,379.6 83.3,380.6 83.4,380.9 83.6,381.3 83.7,382.4 83.9,381.9 84.0,383.4 84.1,383.4 84.3,379.1 84.4,378.5 84.6,377.9 84.7,377.9 84.8,377.9 85.0,378.5 85.1,376.9 85.3,378.7 85.4,377.5 85.5,375.8 85.7,376.1 85.8,377.0 86.0,374.9 86.1,373.5 86.2,374.0 86.4,374.8 86.5,375.6 86.7,368.6 86.8,365.9 86.9,368.1 87.1,369.3 87.2,369.4 87.4,370.0 87.5,372.8 87.6,371.9 87.8,369.8 87.9,367.1 88.1,371.1 88.2,369.6 88.3,366.7 88.5,364.6 88.6,364.7 88.8,365.3 88.9,364.3 89.0,364.8 89.2,361.8 89.3,363.8 89.5,368.9 89.6,368.6 89.7,371.2 89.9,371.1 90.0,370.4 90.2,364.9 90.3,363.1 90.4,360.8 90.6,361.6 90.7,361.1 90.9,361.1 91.0,359.3 91.1,355.5 91.3,357.4 91.4,356.4 91.6,355.4 91.7,354.9 91.8,358.2 92.0,356.5 92.1,352.1 92.3,358.1 92.4,355.3 92.5,352.4 92.7,352.8 92.8,353.1 93.0,351.8 93.1,356.3 93.2,354.4 93.4,351.7 93.5,352.1 93.7,350.4 93.8,352.3 93.9,355.7 94.1,348.6 94.2,351.7 94.4,350.8 94.5,348.8 94.6,350.4 94.8,349.6 94.9,349.5 95.1,347.4 95.2,346.6 95.3,347.5 95.5,347.6 95.6,342.5 95.8,344.3 95.9,346.6 96.0,341.8 96.2,342.1 96.3,343.5 96.5,340.2 96.6,341.3 96.7,345.7 96.9,340.9 97.0,336.3 97.2,337.8 97.3,339.0 97.4,338.5 97.6,336.1 97.7,341.5 97.9,337.2 98.0,335.3 98.1,338.6 98.3,335.2 98.4,334.6 98.6,334.5 98.7,334.6 98.8,331.3 99.0,334.4 99.1,336.1 99.3,330.2 99.4,332.2 99.5,329.5 99.7,331.0 99.8,329.7 100.0,328.7 100.1,328.6 100.2,326.7 100.4,326.5 100.5,327.6 100.7,324.5 100.8,319.8 100.9,324.9 101.1,321.6 101.2,322.8 101.4,322.0 101.5,323.6 101.6,326.7 101.8,321.8 101.9,320.0 102.1,321.1 102.2,321.5 102.3,320.0 102.5,319.7 102.6,318.0 102.8,317.0 102.9,319.5 103.0,316.7 103.2,313.7 103.3,311.7 103.5,312.3 103.6,312.5 103.7,311.2 103.9,314.3 104.0,315.5 104.2,311.9 104.3,312.9 104.4,312.5 104.6,310.7 104.7,310.1 104.9,311.1 105.0,310.7 105.1,310.6 105.3,306.2 105.4,309.0 105.6,308.8 105.7,310.4 105.8,312.2 106.0,313.2 106.1,307.4 106.3,313.0 106.4,307.3 106.5,307.3 106.7,307.7 106.8,302.8 107.0,305.7 107.1,304.8 107.2,306.7 107.4,304.7 107.5,307.2 107.7,304.3 107.8,307.3 107.9,302.0 108.1,302.5 108.2,305.3 108.4,303.4 108.5,298.2 108.6,300.9 108.8,303.1 108.9,301.7 109.1,304.5 109.2,303.3 109.3,301.0 109.5,300.8 109.6,295.1 109.8,300.5 109.9,300.8 110.0,301.7 110.2,297.2 110.3,296.8 110.5,299.0 110.6,299.6 110.7,302.6 110.9,297.0 111.0,297.9 111.2,295.9 111.3,296.2 111.4,298.8 111.6,298.2 111.7,299.4 111.9,296.9 112.0,298.5 112.1,299.1 112.3,296.0 112.4,298.7 112.6,292.5 112.7,298.0 112.8,297.2 113.0,296.9 113.1,296.0 113.3,294.7 113.4,302.3 113.5,296.7 113.7,293.2 113.8,296.2 114.0,296.2 114.1,300.4 114.2,301.1 114.4,299.5 114.5,300.2 114.7,305.4 114.8,299.7 114.9,301.1 115.1,298.1 115.2,301.2 115.4,303.4 115.5,297.1 115.6,302.7 115.8,305.0 115.9,300.9 116.1,303.4 116.2,300.4 116.3,297.8 116.5,300.9 116.6,298.9 116.8,303.2 116.9,306.0 117.0,303.3 117.2,306.9 117.3,300.9 117.5,304.9 117.6,303.5 117.7,302.1 117.9,305.8 118.0,303.4 118.2,305.0 118.3,299.2 118.4,304.1 118.6,306.0 118.7,308.9 118.9,306.2 119.0,304.3 119.1,309.0 119.3,307.8 119.4,303.6 119.6,310.4 119.7,315.7 119.8,309.6 120.0,312.1 120.1,309.8 120.3,314.2 120.4,314.3 120.5,314.5 120.7,314.6 120.8,309.5 121.0,313.6 121.1,313.0 121.2,310.1 121.4,314.0 121.5,317.0 121.7,318.2 121.8,314.6 121.9,315.3 122.1,316.9 122.2,323.4 122.4,319.2 122.5,317.5 122.6,315.5 122.8,317.0 122.9,323.7 123.1,325.3 123.2,326.2 123.3,324.2 123.5,325.0 123.6,326.9 123.8,325.4 123.9,325.2 124.0,330.4 124.2,324.8 124.3,325.6 124.5,328.3 124.6,328.6 124.7,331.6 124.9,334.1 125.0,331.9 125.2,325.6 125.3,331.0 125.4,330.9 125.6,330.8 125.7,326.7 125.9,332.7 126.0,335.2 126.1,335.1 126.3,334.1 126.4,336.9 126.6,339.1 126.7,335.7 126.8,336.3 127.0,340.9 127.1,340.2 127.3,340.5 127.4,340.5 127.5,341.7 127.7,344.9 127.8,345.2 128.0,342.5 128.1,338.2 128.2,344.8 128.4,343.9 128.5,346.8 128.7,346.8 128.8,344.9 128.9,344.6 129.1,343.5 129.2,345.2 129.4,347.6 129.5,351.8 129.6,349.5 129.8,349.2 129.9,350.7 130.1,355.3 130.2,351.3 130.3,353.1 130.5,352.8 130.6,353.8 130.8,356.9 130.9,353.4 131.0,358.5 131.2,359.7 131.3,356.7 131.5,356.3 131.6,356.6 131.7,358.9 131.9,359.4 132.0,359.3 132.2,360.4 132.3,364.5 132.4,361.9 132.6,364.0 132.7,363.3 132.9,367.2 133.0,362.2 133.1,360.5 133.3,361.6 133.4,364.5 133.6,362.8 133.7,368.0 133.8,368.1 134.0,367.8 134.1,368.6 134.3,370.9 134.4,370.3 134.5,372.8 134.7,371.7 134.8,373.5 135.0,374.1 135.1,376.8 135.2,375.2 135.4,375.9 135.5,373.0 135.7,377.4 135.8,382.3 135.9,375.3 136.1,378.5 136.2,378.4 136.4,378.6 136.5,381.7 136.6,383.1 136.8,384.2 136.9,380.5 137.1,384.7 137.2,384.6 137.3,385.5 137.5,384.7 137.6,384.6 137.8,385.1 137.9,387.4 138.0,387.2 138.2,384.7 138.3,385.6 138.5,384.5 138.6,386.9 138.7,389.2 138.9,388.6 139.0,389.9 139.2,389.8 139.3,395.0 139.4,391.0 139.6,388.3 139.7,393.4 139.9,393.3 140.0,393.8 140.1,392.5 140.3,392.8 140.4,392.9 140.6,393.0 140.7,395.6 140.8,395.3 141.0,395.5 141.1,394.8 141.3,396.1 141.4,396.0 141.5,398.3 141.7,398.5 141.8,396.6 142.0,400.6 142.1,398.3 142.2,400.0 142.4,398.7 142.5,402.8 142.7,401.1 142.8,404.2 142.9,405.1 143.1,407.8 143.2,408.0 143.4,407.3 143.5,408.3 143.6,404.1 143.8,404.0 143.9,403.5 144.1,403.1 144.2,405.3 144.3,409.2 144.5,407.9 144.6,406.9 144.8,408.1 144.9,408.8 145.0,408.2 145.2,406.6 145.3,407.2 145.5,408.0 145.6,409.4 145.7,409.2 145.9,411.0 146.0,409.2 146.2,412.1 146.3,411.6 146.4,409.2 146.6,414.1 146.7,414.4 146.9,413.5 147.0,413.1 147.1,416.8 147.3,416.8 147.4,411.6 147.6,415.1 147.7,414.8 147.8,415.9 148.0,415.0 148.1,415.6 148.3,415.3 148.4,417.6 148.5,419.6 148.7,420.7 148.8,419.2 149.0,420.6 149.1,420.5 149.2,418.8 149.4,419.7 149.5,421.9 149.7,422.9 149.8,421.1 149.9,422.2 150.1,421.1 150.2,420.7 150.4,420.9 150.5,419.2 150.6,419.1 150.8,419.3 150.9,419.9 151.1,421.9 151.2,423.3 151.3,424.3 151.5,424.7 151.6,423.1 151.8,426.1 151.9,424.2 152.0,424.2 152.2,423.4 152.3,424.1 152.5,422.0 152.6,421.1 152.7,424.3 152.9,423.9 153.0,426.7 153.2,426.9 153.3,427.0 153.4,426.5 153.6,426.4 153.7,428.0 153.9,429.2 154.0,428.1 154.1,429.4 154.3,429.9 154.4,428.7 154.6,429.4 154.7,429.3 154.8,430.1 155.0,428.8 155.1,428.9 155.3,428.8 155.4,430.4 155.5,429.4 155.7,429.9 155.8,432.5 156.0,432.2 156.1,432.2 156.2,432.6 156.4,433.7 156.5,433.4 156.7,432.3 156.8,431.1 156.9,432.1 157.1,432.4 157.2,433.0 157.4,433.4 157.5,432.9 157.6,434.2 157.8,434.5 157.9,434.1 158.1,433.7 158.2,436.3 158.3,432.7 158.5,436.1 158.6,434.7 158.8,436.5 158.9,436.0 159.0,435.2 159.2,434.3 159.3,435.9 159.5,434.6 159.6,435.9 159.7,438.0 159.9,435.2" fill="none" stroke="#111" stroke-width="1.6" stroke-linejoin="round"/>
<path d="M65.1,397.6 C66.3,397.27 69.75,396.12 72.3,395.6 C74.85,395.08 77.68,394.75 80.4,394.5 C83.12,394.25 85.87,394.02 88.6,394.1 C91.33,394.18 94.07,394.52 96.8,395 C99.53,395.48 102.27,396.15 105,397 C107.73,397.85 110.48,398.98 113.2,400.1 C115.92,401.22 118.58,402.23 121.3,403.7 C124.02,405.17 126.77,407.02 129.5,408.9 C132.23,410.78 134.97,412.97 137.7,415 C140.43,417.03 143.52,419.23 145.9,421.1 C148.28,422.97 150.3,424.67 152,426.2 C153.7,427.73 154.43,428.75 156.1,430.3 C157.77,431.85 161.02,434.63 162,435.5" fill="none" stroke="#222" stroke-width="0.8"/>
</g></svg></body></html>
